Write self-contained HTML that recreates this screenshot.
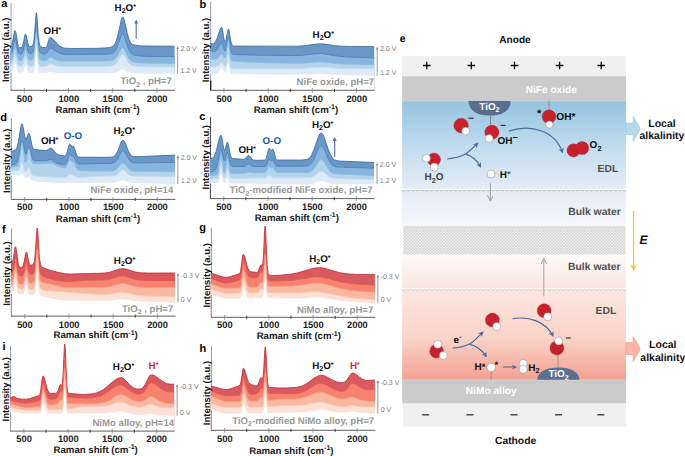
<!DOCTYPE html>
<html><head><meta charset="utf-8"><style>
html,body{margin:0;padding:0;background:#fff;}
svg{display:block;font-family:"Liberation Sans",sans-serif;text-rendering:geometricPrecision;}
</style></head><body>
<svg width="685" height="456" viewBox="0 0 685 456">
<defs>
<linearGradient id="gEDLb" x1="0" y1="0" x2="0" y2="1">
 <stop offset="0" stop-color="#94c4e0"/><stop offset="0.5" stop-color="#c0dbee"/><stop offset="1" stop-color="#e5eef7"/></linearGradient>
<linearGradient id="gBulkb" x1="0" y1="0" x2="0" y2="1">
 <stop offset="0" stop-color="#e2ebf6"/><stop offset="1" stop-color="#f5f8fc"/></linearGradient>
<linearGradient id="gBulkr" x1="0" y1="0" x2="0" y2="1">
 <stop offset="0" stop-color="#fefbf9"/><stop offset="1" stop-color="#fbe4dd"/></linearGradient>
<linearGradient id="gEDLr" x1="0" y1="0" x2="0" y2="1">
 <stop offset="0" stop-color="#fce8e1"/><stop offset="0.55" stop-color="#fad3c8"/><stop offset="1" stop-color="#f4a090"/></linearGradient>
<linearGradient id="gArrB" x1="0" y1="0" x2="1" y2="0">
 <stop offset="0" stop-color="#b9d9ee"/><stop offset="1" stop-color="#a6cde8"/></linearGradient>
<linearGradient id="gArrR" x1="0" y1="0" x2="1" y2="0">
 <stop offset="0" stop-color="#fbd0c4"/><stop offset="1" stop-color="#f5a594"/></linearGradient>
<radialGradient id="gRed" cx="0.38" cy="0.35" r="0.7">
 <stop offset="0" stop-color="#d8343f"/><stop offset="1" stop-color="#bf1c2b"/></radialGradient>
<pattern id="hatch" width="3" height="3" patternUnits="userSpaceOnUse">
 <rect width="3" height="3" fill="#ececec"/><path d="M0 0 L3 3 M3 0 L0 3" stroke="#d0d0d0" stroke-width="0.65"/></pattern>
<marker id="mArrB" viewBox="0 0 10 10" refX="8" refY="5" markerWidth="4.5" markerHeight="4.5" orient="auto-start-reverse">
 <path d="M0 0 L10 5 L0 10 L3 5 Z" fill="#4a6c9e"/></marker>
<marker id="mArrG" viewBox="0 0 10 10" refX="8" refY="5" markerWidth="6.5" markerHeight="6.5" orient="auto-start-reverse">
 <path d="M0 0 L10 5 L0 10" fill="none" stroke="#999" stroke-width="1.6"/></marker>
<marker id="mArrY" viewBox="0 0 10 10" refX="8" refY="5" markerWidth="5" markerHeight="5" orient="auto-start-reverse">
 <path d="M0 0 L10 5 L0 10" fill="none" stroke="#f5c030" stroke-width="1.6"/></marker>
</defs>
<text x="399.80" y="42.20" font-size="10.5" fill="#000" font-weight="bold" text-anchor="start" >e</text>
<text x="515.00" y="43.30" font-size="10.1" fill="#111" font-weight="bold" text-anchor="middle" >Anode</text>
<rect x="402.1" y="55.9" width="223.89999999999998" height="20.6" fill="#f0f0f0"/>
<path d="M423.00 65.5 H430.60 M426.80 61.7 V69.3" stroke="#111" stroke-width="1.35"/>
<path d="M467.50 65.5 H475.10 M471.30 61.7 V69.3" stroke="#111" stroke-width="1.35"/>
<path d="M510.70 65.5 H518.30 M514.50 61.7 V69.3" stroke="#111" stroke-width="1.35"/>
<path d="M555.80 65.5 H563.40 M559.60 61.7 V69.3" stroke="#111" stroke-width="1.35"/>
<path d="M597.40 65.5 H605.00 M601.20 61.7 V69.3" stroke="#111" stroke-width="1.35"/>
<rect x="402.1" y="76.3" width="223.89999999999998" height="24.9" fill="#cbcbcb"/>
<text x="551.30" y="93.20" font-size="10.1" fill="#fff" font-weight="bold" text-anchor="middle" >NiFe oxide</text>
<rect x="402.1" y="101.2" width="223.89999999999998" height="89.0" fill="url(#gEDLb)"/>
<rect x="402.1" y="190.2" width="223.89999999999998" height="35.6" fill="url(#gBulkb)"/>
<path d="M402.1 190.7 H626.0" stroke="#c2c8d0" stroke-width="1.3" stroke-dasharray="3.3 1.4"/>
<path d="M402.1 189.3 H626.0" stroke="#fff" stroke-width="1.2" stroke-dasharray="3.3 1.4"/>
<rect x="403.1" y="225.8" width="222.39999999999998" height="28.9" fill="url(#hatch)"/>
<rect x="402.1" y="254.7" width="223.89999999999998" height="34.6" fill="url(#gBulkr)"/>
<rect x="402.1" y="289.3" width="223.89999999999998" height="90.5" fill="url(#gEDLr)"/>
<path d="M402.1 290.1 H626.0" stroke="#dcc6c0" stroke-width="1.3" stroke-dasharray="3.3 1.4"/>
<path d="M402.1 288.7 H626.0" stroke="#fff" stroke-width="1.2" stroke-dasharray="3.3 1.4"/>
<rect x="402.1" y="379.7" width="223.89999999999998" height="23.9" fill="#cbcbcb"/>
<text x="491.20" y="394.30" font-size="10.2" fill="#fff" font-weight="bold" text-anchor="middle" >NiMo alloy</text>
<rect x="402.90000000000003" y="403.6" width="223.09999999999997" height="22.9" fill="#f0f0f0"/>
<path d="M422.20 414.80 H429.20" stroke="#333" stroke-width="1.3"/>
<path d="M466.50 414.80 H473.50" stroke="#333" stroke-width="1.3"/>
<path d="M510.50 414.80 H517.50" stroke="#333" stroke-width="1.3"/>
<path d="M555.00 414.80 H562.00" stroke="#333" stroke-width="1.3"/>
<path d="M597.30 414.80 H604.30" stroke="#333" stroke-width="1.3"/>
<text x="515.60" y="443.60" font-size="10.3" fill="#111" font-weight="bold" text-anchor="middle" >Cathode</text>
<text x="607.90" y="171.80" font-size="10.3" fill="#505050" font-weight="bold" text-anchor="middle" >EDL</text>
<text x="594.50" y="215.00" font-size="10.4" fill="#505050" font-weight="bold" text-anchor="middle" >Bulk water</text>
<text x="594.30" y="269.60" font-size="10.4" fill="#505050" font-weight="bold" text-anchor="middle" >Bulk water</text>
<text x="605.90" y="314.30" font-size="10.3" fill="#505050" font-weight="bold" text-anchor="middle" >EDL</text>
<path d="M633.6 210.9 V268" stroke="#f7c44e" stroke-width="1.3"/>
<path d="M630.1 264.0 L633.6 271.2 L637.1 264.0 L633.6 266.6 Z" fill="#f7c44e"/>
<text x="639.60" y="243.90" font-size="12.2" fill="#111" font-weight="bold" text-anchor="start" font-style="italic">E</text>
<path d="M626 123.2 H633.2 V116.4 L640.3 128.9 L633.2 141.3 V134.6 H626 Z" fill="#b6d8ee" stroke="#8fc2e2" stroke-width="0.6"/>
<path d="M626 342.6 H633.2 V336.6 L640.3 349.1 L633.2 361.6 V354.6 H626 Z" fill="#f9b6a7" stroke="#f38c7a" stroke-width="0.6"/>
<text x="662.00" y="127.00" font-size="10.5" fill="#111" font-weight="bold" text-anchor="middle" >Local</text>
<text x="662.00" y="138.60" font-size="10.5" fill="#111" font-weight="bold" text-anchor="middle" >alkalinity</text>
<text x="662.80" y="348.20" font-size="10.5" fill="#111" font-weight="bold" text-anchor="middle" >Local</text>
<text x="662.80" y="360.90" font-size="10.5" fill="#111" font-weight="bold" text-anchor="middle" >alkalinity</text>
<path d="M468.6 101.0 L510.6 101.0 C510.6 110.5 502.5 115.6 489.6 115.6 C476.7 115.6 468.6 110.5 468.6 101.0 Z" fill="#5a6d8d"/>
<text x="489.4" y="109.6" font-size="9.9" fill="#fff" font-weight="bold" text-anchor="middle">TiO<tspan font-size="7.1" dy="2.4">2</tspan></text>
<path d="M490.6 115.6 V124.5" stroke="#6a6a6a" stroke-width="0.8"/>
<path d="M549 101 V110" stroke="#8a8a8a" stroke-width="0.8"/>
<circle cx="461.1" cy="125.6" r="7.3" fill="#c5222e" stroke="#b01c28" stroke-width="0.3"/>
<circle cx="465.7" cy="131.1" r="3.9" fill="#fff" stroke="#777" stroke-width="0.45"/>
<path d="M468.50 118.20 H473.50" stroke="#222" stroke-width="1.1"/>
<circle cx="491.9" cy="132.2" r="7.1" fill="#c5222e" stroke="#b01c28" stroke-width="0.3"/>
<circle cx="489.1" cy="138.5" r="3.9" fill="#fff" stroke="#777" stroke-width="0.45"/>
<path d="M500.60 125.40 H505.60" stroke="#222" stroke-width="1.1"/>
<text x="497.40" y="143.80" font-size="10.0" fill="#111" font-weight="bold" text-anchor="start" >OH</text>
<path d="M513.10 137.50 H517.70" stroke="#111" stroke-width="1.0"/>
<circle cx="549.0" cy="116.7" r="6.9" fill="#c5222e" stroke="#b01c28" stroke-width="0.3"/>
<circle cx="549.4" cy="124.5" r="3.6" fill="#fff" stroke="#777" stroke-width="0.45"/>
<text x="537.00" y="117.40" font-size="11" fill="#111" font-weight="bold" text-anchor="start" >*</text>
<text x="556.30" y="120.00" font-size="10.2" fill="#111" font-weight="bold" text-anchor="start" >OH*</text>
<circle cx="573.5" cy="150.4" r="6.6" fill="#c5222e" stroke="#b01c28" stroke-width="0.3"/>
<circle cx="582.2" cy="148.0" r="6.6" fill="#c5222e" stroke="#b01c28" stroke-width="0.3"/>
<text x="589.6" y="148.0" font-size="10" fill="#111" font-weight="bold">O<tspan font-size="7.2" dy="2.5">2</tspan></text>
<circle cx="434.0" cy="159.6" r="6.6" fill="#c5222e" stroke="#b01c28" stroke-width="0.3"/>
<circle cx="426.4" cy="158.3" r="3.95" fill="#fff" stroke="#777" stroke-width="0.45"/>
<circle cx="434.3" cy="167.1" r="4.0" fill="#fff" stroke="#777" stroke-width="0.45"/>
<text x="424.6" y="180.0" font-size="10" fill="#444" font-weight="bold">H<tspan font-size="7.2" dy="2.5">2</tspan><tspan dy="-2.5">O</tspan></text>
<circle cx="491.0" cy="174.1" r="4.0" fill="#fff" stroke="#777" stroke-width="0.45"/>
<text x="499.8" y="177.5" font-size="10" fill="#111" font-weight="bold">H<tspan font-size="6.5" dy="-3.0">+</tspan></text>
<path d="M447.1 159 C456 158 462 156 466.5 153.5 C471 150 475 146 477.6 143.2" fill="none" stroke="#4a6c9e" stroke-width="1.2" marker-end="url(#mArrB)"/>
<path d="M465.8 154.2 C472 156 477 160 480.5 166.8" fill="none" stroke="#4a6c9e" stroke-width="1.2" marker-end="url(#mArrB)"/>
<path d="M508.8 131.1 C530 124 555 130 562.5 152.5" fill="none" stroke="#4a6c9e" stroke-width="1.2" marker-end="url(#mArrB)"/>
<path d="M490.4 183 V200" stroke="#9a9a9a" stroke-width="0.9" marker-end="url(#mArrG)"/>
<path d="M543.8 296.4 V259.5" stroke="#9a9a9a" stroke-width="0.9" marker-end="url(#mArrG)"/>
<circle cx="436.6" cy="351.2" r="6.9" fill="#c5222e" stroke="#b01c28" stroke-width="0.3"/>
<circle cx="437.7" cy="344.3" r="4.0" fill="#fff" stroke="#777" stroke-width="0.45"/>
<circle cx="443.3" cy="355.5" r="4.0" fill="#fff" stroke="#777" stroke-width="0.45"/>
<text x="453.6" y="342.5" font-size="10" fill="#111" font-weight="bold">e<tspan font-size="7" dy="-3.8">-</tspan></text>
<path d="M452.6 348.1 C461 347.5 466 346 470 343.8 C475 340.5 479 336 482.8 332.2" fill="none" stroke="#4a6c9e" stroke-width="1.2" marker-end="url(#mArrB)"/>
<path d="M469.5 344.2 C476 346 482 350 486.2 356.5" fill="none" stroke="#4a6c9e" stroke-width="1.2" marker-end="url(#mArrB)"/>
<circle cx="492.4" cy="320.1" r="7.0" fill="#c5222e" stroke="#b01c28" stroke-width="0.3"/>
<circle cx="496.7" cy="326.6" r="4.0" fill="#fff" stroke="#777" stroke-width="0.45"/>
<path d="M512.6 318.6 C530 316 546 322 553 336" fill="none" stroke="#4a6c9e" stroke-width="1.2" marker-end="url(#mArrB)"/>
<circle cx="544.2" cy="310.7" r="7.0" fill="#c5222e" stroke="#b01c28" stroke-width="0.3"/>
<circle cx="547.7" cy="316.8" r="4.0" fill="#fff" stroke="#777" stroke-width="0.45"/>
<path d="M537.2 379.8 C537.2 372 546 367.4 558.3 367.4 C570.6 367.4 579.5 372 579.5 379.8 Z" fill="#5b6f8f"/>
<text x="558.6" y="377.4" font-size="9.9" fill="#fff" font-weight="bold" text-anchor="middle">TiO<tspan font-size="7.1" dy="2.4">2</tspan></text>
<path d="M558 355 V367.4" stroke="#8a8a8a" stroke-width="0.8"/>
<circle cx="556.9" cy="348.0" r="7.0" fill="#c5222e" stroke="#b01c28" stroke-width="0.3"/>
<circle cx="558.7" cy="341.0" r="4.0" fill="#fff" stroke="#777" stroke-width="0.45"/>
<path d="M565.80 338.00 H570.80" stroke="#222" stroke-width="1.1"/>
<path d="M491.1 371.5 V379.7" stroke="#8a8a8a" stroke-width="0.8"/>
<text x="474.6" y="370.4" font-size="10" fill="#111" font-weight="bold">H<tspan font-size="9.5" dy="-0.5">*</tspan></text>
<circle cx="491.1" cy="367.5" r="4.2" fill="#fff" stroke="#777" stroke-width="0.45"/>
<text x="494.60" y="368.30" font-size="9.5" fill="#111" font-weight="bold" text-anchor="start" >*</text>
<path d="M502.9 367 H516" stroke="#4a6c9e" stroke-width="1.1" marker-end="url(#mArrB)"/>
<circle cx="523.2" cy="363.4" r="4.0" fill="#fff" stroke="#777" stroke-width="0.45"/>
<circle cx="523.2" cy="369.3" r="4.0" fill="#fff" stroke="#777" stroke-width="0.45"/>
<text x="528.2" y="370.8" font-size="10" fill="#111" font-weight="bold">H<tspan font-size="7.2" dy="2.4">2</tspan></text>
<path d="M11.10 3.10 V90.30" stroke="#9a9a9a" stroke-width="1"/>
<g>
<path d="M10.5 88.8 L10.5 46.7 L11.1 46.7 L11.7 45.7 L12.3 43.7 L14.3 32.5 L14.7 30.9 L15.1 30.5 L15.4 30.9 L15.9 32.6 L17.9 44.5 L18.5 46.4 L19.2 47.4 L20.0 47.8 L21.0 47.8 L21.7 47.3 L22.3 46.4 L23.2 43.6 L24.8 35.5 L25.2 34.4 L25.5 34.0 L25.9 34.3 L26.2 35.3 L27.8 43.0 L28.8 45.7 L29.4 46.4 L30.3 46.6 L31.7 46.1 L32.6 45.4 L33.4 43.4 L34.1 39.2 L35.9 15.9 L36.1 13.5 L36.4 12.7 L36.6 13.6 L36.9 16.0 L38.2 35.0 L39.1 42.5 L39.7 44.7 L40.3 45.9 L41.2 46.8 L42.8 47.4 L45.1 47.6 L45.8 47.3 L46.5 46.7 L47.4 44.7 L49.2 38.7 L49.6 37.9 L50.0 37.7 L51.3 38.0 L52.8 39.0 L57.7 44.3 L59.9 46.2 L62.2 47.5 L64.8 48.2 L71.7 48.5 L97.8 48.3 L106.8 47.8 L109.7 47.4 L111.4 46.9 L112.9 46.2 L114.2 45.0 L115.2 43.3 L116.2 41.1 L118.0 35.0 L121.2 20.2 L122.0 17.9 L122.7 17.1 L123.0 17.2 L123.4 17.7 L124.2 19.8 L127.3 33.5 L128.8 39.0 L130.5 42.4 L131.5 43.6 L132.6 44.3 L134.0 44.9 L135.8 45.3 L141.9 45.9 L152.8 46.1 L174.6 46.2 L174.6 88.8 Z" fill="#6a97c6"/>
<path d="M10.5 88.8 L10.5 53.3 L11.1 53.3 L11.7 52.4 L12.3 50.6 L14.3 40.8 L14.7 39.3 L15.1 39.0 L15.4 39.3 L15.9 40.8 L17.9 51.0 L18.5 52.6 L19.2 53.5 L20.0 53.9 L21.1 53.8 L21.8 53.4 L22.3 52.7 L23.2 50.3 L24.8 43.2 L25.2 42.3 L25.5 41.9 L25.9 42.3 L26.2 43.2 L27.8 50.1 L28.8 52.7 L29.4 53.3 L30.3 53.5 L31.7 53.2 L32.7 52.5 L33.6 50.6 L34.2 47.2 L35.9 26.5 L36.1 24.1 L36.4 23.3 L36.8 25.6 L38.2 43.2 L38.9 49.5 L39.4 51.2 L40.0 52.5 L40.8 53.1 L42.1 53.6 L44.9 54.0 L45.7 53.9 L46.4 53.5 L47.4 52.3 L49.2 48.9 L50.0 48.3 L51.3 48.5 L52.6 49.0 L57.2 52.1 L59.4 53.2 L61.6 53.9 L64.1 54.3 L71.2 54.4 L99.4 54.3 L107.2 54.1 L111.3 53.5 L112.7 53.1 L113.9 52.3 L115.0 51.2 L115.9 49.7 L117.7 45.8 L121.1 35.6 L121.9 34.1 L122.7 33.6 L123.5 34.2 L124.3 35.9 L127.5 46.3 L129.2 50.5 L131.0 53.2 L132.0 54.1 L133.2 54.8 L134.7 55.3 L136.8 55.6 L143.9 56.2 L154.8 56.5 L174.6 56.6 L174.6 88.8 Z" fill="#86b5df"/>
<path d="M10.5 88.8 L10.5 60.1 L11.1 60.1 L11.8 59.3 L12.4 57.7 L14.3 49.2 L14.7 47.9 L15.1 47.5 L15.4 47.9 L15.9 49.2 L17.7 57.8 L18.3 59.3 L19.1 60.2 L19.9 60.5 L21.1 60.5 L21.8 60.2 L22.4 59.5 L23.3 57.3 L24.9 50.6 L25.2 49.8 L25.5 49.6 L25.8 49.7 L26.1 50.5 L27.7 57.2 L28.7 59.5 L29.4 60.1 L30.4 60.2 L32.0 59.9 L32.9 59.2 L33.7 57.5 L34.3 54.0 L35.9 34.4 L36.4 31.9 L36.8 34.4 L38.0 49.8 L38.8 56.4 L39.2 58.1 L39.8 59.3 L40.6 59.9 L42.0 60.4 L44.7 60.7 L46.3 60.5 L47.3 59.7 L49.2 57.4 L50.0 57.0 L51.9 57.5 L55.2 59.6 L56.8 60.3 L58.6 60.8 L60.7 61.1 L99.1 61.1 L107.1 60.9 L111.3 60.6 L113.9 59.8 L115.0 59.1 L115.9 58.1 L117.7 55.6 L121.1 49.0 L121.9 48.0 L122.6 47.7 L123.4 48.1 L124.3 49.3 L127.5 56.3 L129.2 59.2 L131.1 61.1 L133.3 62.1 L136.8 62.7 L144.1 63.1 L174.6 63.4 L174.6 88.8 Z" fill="#b4d4eb"/>
<path d="M10.5 88.8 L10.5 66.2 L11.1 66.2 L11.9 65.5 L12.5 64.1 L14.4 55.9 L14.7 54.9 L15.1 54.5 L15.4 54.9 L15.8 55.9 L17.6 64.1 L18.2 65.4 L18.9 66.2 L19.8 66.5 L21.2 66.4 L22.0 66.2 L22.5 65.7 L23.4 63.6 L24.9 57.5 L25.2 56.7 L25.5 56.5 L25.8 56.7 L26.1 57.5 L27.6 63.6 L28.6 65.8 L29.2 66.3 L30.1 66.5 L32.5 66.5 L33.3 66.2 L33.9 64.8 L34.4 61.7 L35.9 42.8 L36.1 40.4 L36.4 39.5 L36.6 40.4 L36.9 42.8 L38.4 62.4 L39.1 65.6 L39.6 66.3 L40.1 66.5 L44.4 66.5 L46.1 66.3 L47.3 65.7 L49.2 63.9 L50.0 63.6 L51.9 63.9 L56.9 66.0 L60.7 66.5 L98.3 66.6 L106.7 66.4 L111.1 66.1 L113.8 65.4 L115.9 63.9 L117.7 61.5 L121.1 55.6 L121.9 54.8 L122.7 54.4 L123.5 54.8 L124.3 55.7 L127.5 61.4 L129.1 63.6 L130.9 65.1 L133.1 66.0 L136.5 66.4 L143.0 66.7 L174.6 67.0 L174.6 88.8 Z" fill="#deeaf7"/>
<path d="M10.5 89.8 L10.5 72.3 L11.1 72.3 L12.0 71.9 L12.7 70.9 L14.5 64.5 L14.8 63.7 L15.1 63.5 L15.3 63.7 L15.7 64.5 L17.4 70.7 L17.9 71.8 L18.5 72.3 L19.4 72.5 L21.4 72.6 L22.2 72.5 L22.8 72.1 L23.7 70.5 L25.0 66.3 L25.5 65.7 L26.1 66.6 L27.5 71.1 L28.3 72.3 L29.0 72.7 L29.8 72.8 L32.7 72.8 L33.5 72.6 L34.1 71.4 L34.5 69.0 L35.9 52.2 L36.1 49.8 L36.4 48.9 L36.8 51.3 L38.3 69.7 L38.9 72.2 L39.3 72.7 L39.8 73.0 L46.1 73.0 L47.3 72.7 L49.3 71.8 L50.0 71.7 L51.9 71.9 L56.8 73.0 L60.7 73.3 L93.9 73.3 L110.9 73.2 L113.7 72.9 L115.9 72.4 L117.7 71.6 L121.1 69.6 L122.7 69.2 L124.3 69.7 L127.5 71.6 L129.1 72.4 L130.9 72.9 L133.1 73.2 L143.1 73.5 L174.6 73.7 L174.6 89.8 Z" fill="#fff"/>
<path d="M11.10 72.83 V90.30" stroke="#9a9a9a" stroke-width="1"/>
<path d="M10.5 46.7 L11.1 46.7 L11.7 45.7 L12.3 43.7 L14.3 32.5 L14.7 30.9 L15.1 30.5 L15.4 30.9 L15.9 32.6 L17.9 44.5 L18.5 46.4 L19.2 47.4 L20.0 47.8 L21.0 47.8 L21.7 47.3 L22.3 46.4 L23.2 43.6 L24.8 35.5 L25.2 34.4 L25.5 34.0 L25.9 34.3 L26.2 35.3 L27.8 43.0 L28.8 45.7 L29.4 46.4 L30.3 46.6 L31.7 46.1 L32.6 45.4 L33.4 43.4 L34.1 39.2 L35.9 15.9 L36.1 13.5 L36.4 12.7 L36.6 13.6 L36.9 16.0 L38.2 35.0 L39.1 42.5 L39.7 44.7 L40.3 45.9 L41.2 46.8 L42.8 47.4 L45.1 47.6 L45.8 47.3 L46.5 46.7 L47.4 44.7 L49.2 38.7 L49.6 37.9 L50.0 37.7 L51.3 38.0 L52.8 39.0 L57.7 44.3 L59.9 46.2 L62.2 47.5 L64.8 48.2 L71.7 48.5 L97.8 48.3 L106.8 47.8 L109.7 47.4 L111.4 46.9 L112.9 46.2 L114.2 45.0 L115.2 43.3 L116.2 41.1 L118.0 35.0 L121.2 20.2 L122.0 17.9 L122.7 17.1 L123.0 17.2 L123.4 17.7 L124.2 19.8 L127.3 33.5 L128.8 39.0 L130.5 42.4 L131.5 43.6 L132.6 44.3 L134.0 44.9 L135.8 45.3 L141.9 45.9 L152.8 46.1 L174.6 46.2" fill="none" stroke="#3a6ca6" stroke-width="0.85" stroke-linejoin="round"/>
<path d="M10.5 53.3 L11.1 53.3 L11.7 52.4 L12.3 50.6 L14.3 40.8 L14.7 39.3 L15.1 39.0 L15.4 39.3 L15.9 40.8 L17.9 51.0 L18.5 52.6 L19.2 53.5 L20.0 53.9 L21.1 53.8 L21.8 53.4 L22.3 52.7 L23.2 50.3 L24.8 43.2 L25.2 42.3 L25.5 41.9 L25.9 42.3 L26.2 43.2 L27.8 50.1 L28.8 52.7 L29.4 53.3 L30.3 53.5 L31.7 53.2 L32.7 52.5 L33.6 50.6 L34.2 47.2 L35.9 26.5 L36.1 24.1 L36.4 23.3 L36.8 25.6 L38.2 43.2 L38.9 49.5 L39.4 51.2 L40.0 52.5 L40.8 53.1 L42.1 53.6 L44.9 54.0 L45.7 53.9 L46.4 53.5 L47.4 52.3 L49.2 48.9 L50.0 48.3 L51.3 48.5 L52.6 49.0 L57.2 52.1 L59.4 53.2 L61.6 53.9 L64.1 54.3 L71.2 54.4 L99.4 54.3 L107.2 54.1 L111.3 53.5 L112.7 53.1 L113.9 52.3 L115.0 51.2 L115.9 49.7 L117.7 45.8 L121.1 35.6 L121.9 34.1 L122.7 33.6 L123.5 34.2 L124.3 35.9 L127.5 46.3 L129.2 50.5 L131.0 53.2 L132.0 54.1 L133.2 54.8 L134.7 55.3 L136.8 55.6 L143.9 56.2 L154.8 56.5 L174.6 56.6" fill="none" stroke="#4a82bd" stroke-width="0.85" stroke-linejoin="round"/>
<path d="M10.5 60.1 L11.1 60.1 L11.8 59.3 L12.4 57.7 L14.3 49.2 L14.7 47.9 L15.1 47.5 L15.4 47.9 L15.9 49.2 L17.7 57.8 L18.3 59.3 L19.1 60.2 L19.9 60.5 L21.1 60.5 L21.8 60.2 L22.4 59.5 L23.3 57.3 L24.9 50.6 L25.2 49.8 L25.5 49.6 L25.8 49.7 L26.1 50.5 L27.7 57.2 L28.7 59.5 L29.4 60.1 L30.4 60.2 L32.0 59.9 L32.9 59.2 L33.7 57.5 L34.3 54.0 L35.9 34.4 L36.4 31.9 L36.8 34.4 L38.0 49.8 L38.8 56.4 L39.2 58.1 L39.8 59.3 L40.6 59.9 L42.0 60.4 L44.7 60.7 L46.3 60.5 L47.3 59.7 L49.2 57.4 L50.0 57.0 L51.9 57.5 L55.2 59.6 L56.8 60.3 L58.6 60.8 L60.7 61.1 L99.1 61.1 L107.1 60.9 L111.3 60.6 L113.9 59.8 L115.0 59.1 L115.9 58.1 L117.7 55.6 L121.1 49.0 L121.9 48.0 L122.6 47.7 L123.4 48.1 L124.3 49.3 L127.5 56.3 L129.2 59.2 L131.1 61.1 L133.3 62.1 L136.8 62.7 L144.1 63.1 L174.6 63.4" fill="none" stroke="#8dbde2" stroke-width="0.85" stroke-linejoin="round"/>
<path d="M10.5 66.2 L11.1 66.2 L11.9 65.5 L12.5 64.1 L14.4 55.9 L14.7 54.9 L15.1 54.5 L15.4 54.9 L15.8 55.9 L17.6 64.1 L18.2 65.4 L18.9 66.2 L19.8 66.5 L21.2 66.4 L22.0 66.2 L22.5 65.7 L23.4 63.6 L24.9 57.5 L25.2 56.7 L25.5 56.5 L25.8 56.7 L26.1 57.5 L27.6 63.6 L28.6 65.8 L29.2 66.3 L30.1 66.5 L32.5 66.5 L33.3 66.2 L33.9 64.8 L34.4 61.7 L35.9 42.8 L36.1 40.4 L36.4 39.5 L36.6 40.4 L36.9 42.8 L38.4 62.4 L39.1 65.6 L39.6 66.3 L40.1 66.5 L44.4 66.5 L46.1 66.3 L47.3 65.7 L49.2 63.9 L50.0 63.6 L51.9 63.9 L56.9 66.0 L60.7 66.5 L98.3 66.6 L106.7 66.4 L111.1 66.1 L113.8 65.4 L115.9 63.9 L117.7 61.5 L121.1 55.6 L121.9 54.8 L122.7 54.4 L123.5 54.8 L124.3 55.7 L127.5 61.4 L129.1 63.6 L130.9 65.1 L133.1 66.0 L136.5 66.4 L143.0 66.7 L174.6 67.0" fill="none" stroke="#c3dbf0" stroke-width="0.85" stroke-linejoin="round"/>
</g>
<path d="M175.14 90.30 H10.60" fill="none" stroke="#5e5e5e" stroke-width="1"/>
<path d="M24.36 88.10 V92.70 M68.56 88.10 V92.70 M112.76 88.10 V92.70 M156.96 88.10 V92.70 " stroke="#808080" stroke-width="0.8"/>
<path d="M46.46 88.80 V91.90 M90.66 88.80 V91.90 M134.86 88.80 V91.90 " stroke="#3a3a3a" stroke-width="1"/>
<text x="24.56" y="101.60" font-size="9.3" fill="#1a1a1a" font-weight="bold" text-anchor="middle" ><tspan>500</tspan></text>
<text x="68.76" y="101.60" font-size="9.3" fill="#1a1a1a" font-weight="bold" text-anchor="middle" ><tspan>1000</tspan></text>
<text x="112.96" y="101.60" font-size="9.3" fill="#1a1a1a" font-weight="bold" text-anchor="middle" ><tspan>1500</tspan></text>
<text x="157.16" y="101.60" font-size="9.3" fill="#1a1a1a" font-weight="bold" text-anchor="middle" ><tspan>2000</tspan></text>
<text x="97.60" y="113.10" font-size="9.65" fill="#1a1a1a" font-weight="bold" text-anchor="middle" ><tspan>Raman shift (cm</tspan><tspan font-size="6.95" dy="-3.67">-1</tspan><tspan dy="3.67">)</tspan></text>
<text x="0" y="0" font-size="9.5" fill="#1a1a1a" font-weight="bold" text-anchor="middle" transform="translate(9.20 49.90) rotate(-90)">Intensity (a.u.)</text>
<text x="1.20" y="6.90" font-size="11" fill="#000" font-weight="bold" text-anchor="start" ><tspan>a</tspan></text>
<path d="M177.60 47.72 V73.69" stroke="#8c8c8c" stroke-width="0.9"/>
<path d="M176.30 49.02 L177.60 46.22 L178.90 49.02 Z" fill="#8c8c8c"/>
<text x="180.40" y="50.72" font-size="7.0" fill="#7c7c7c" font-weight="normal" text-anchor="start" ><tspan>2.0 V</tspan></text>
<text x="180.40" y="72.69" font-size="7.0" fill="#7c7c7c" font-weight="normal" text-anchor="start" ><tspan>1.2 V</tspan></text>
<text x="171.80" y="84.20" font-size="9.6" fill="#999" font-weight="bold" text-anchor="end" ><tspan>TiO</tspan><tspan font-size="6.91" dy="2.40">2</tspan><tspan dy="-2.40"> , pH=7</tspan></text>
<text x="43.60" y="33.80" font-size="9.8" fill="#111" font-weight="bold" text-anchor="start" ><tspan>OH</tspan><tspan font-size="7.06" dy="-1.96">*</tspan></text>
<text x="114.60" y="10.70" font-size="9.8" fill="#111" font-weight="bold" text-anchor="start" ><tspan>H</tspan><tspan font-size="7.06" dy="2.45">2</tspan><tspan dy="-2.45">O</tspan><tspan font-size="7.06" dy="-1.96">*</tspan></text>
<path d="M136.2 38.7 V22.6" stroke="#4d72a8" stroke-width="1.1"/>
<path d="M134.2 23.6 L136.2 19.6 L138.2 23.6 Z" fill="#4d72a8"/>
<path d="M210.70 2.00 V90.30" stroke="#9a9a9a" stroke-width="1"/>
<g>
<path d="M210.1 88.8 L210.1 43.5 L210.7 43.5 L212.4 43.7 L213.5 43.4 L214.5 42.8 L215.4 41.8 L217.0 38.5 L220.0 29.4 L220.8 27.9 L221.5 27.4 L221.8 27.7 L222.3 29.0 L224.0 39.2 L224.6 41.1 L225.0 41.8 L225.5 41.5 L226.0 39.9 L227.8 30.3 L228.2 29.1 L228.6 29.2 L229.3 31.6 L230.6 39.8 L231.4 43.4 L232.4 45.5 L232.9 45.9 L233.7 46.1 L296.6 46.2 L304.0 45.8 L315.7 44.1 L320.5 43.8 L324.7 44.1 L335.3 45.7 L341.8 46.2 L350.2 46.5 L374.2 46.6 L374.2 88.8 Z" fill="#6a97c6"/>
<path d="M210.1 88.8 L210.1 50.7 L210.7 50.7 L214.3 51.3 L215.3 51.2 L216.2 50.7 L217.7 48.9 L220.2 43.9 L220.9 43.2 L221.5 42.9 L221.9 43.2 L222.4 44.1 L224.2 50.1 L224.7 50.8 L225.1 50.9 L225.6 50.3 L225.9 49.2 L227.7 39.6 L228.0 38.4 L228.4 38.0 L228.7 38.5 L229.1 39.8 L230.6 48.8 L231.3 51.9 L232.3 53.9 L232.9 54.3 L233.7 54.5 L257.0 55.2 L295.7 55.5 L303.6 55.2 L315.5 53.7 L320.3 53.5 L324.7 53.9 L335.4 55.8 L342.0 56.6 L351.1 57.1 L374.2 57.9 L374.2 88.8 Z" fill="#86b5df"/>
<path d="M210.1 88.8 L210.1 58.8 L210.7 58.8 L215.2 59.2 L217.0 58.9 L218.4 57.7 L220.6 54.4 L221.5 53.9 L222.0 54.1 L222.5 54.6 L224.6 58.0 L224.9 58.2 L225.3 58.1 L225.7 57.2 L226.2 55.2 L227.6 43.0 L227.9 41.1 L228.2 40.6 L228.5 41.2 L228.8 43.2 L230.0 54.1 L230.6 58.1 L231.4 60.4 L231.9 60.9 L232.6 61.1 L244.5 61.9 L260.3 62.6 L293.2 63.5 L303.2 63.3 L316.1 62.0 L321.1 61.9 L325.6 62.2 L336.0 63.5 L341.4 63.9 L374.2 64.6 L374.2 88.8 Z" fill="#b4d4eb"/>
<path d="M210.1 88.8 L210.1 66.3 L210.7 66.3 L215.4 66.8 L217.1 66.6 L218.4 65.7 L220.6 63.0 L221.5 62.6 L222.0 62.8 L222.5 63.2 L224.7 66.2 L225.1 66.5 L225.5 66.5 L225.9 65.8 L226.3 64.6 L227.7 55.7 L227.9 54.6 L228.2 54.3 L228.7 55.8 L230.4 66.4 L231.1 68.0 L231.6 68.4 L232.3 68.5 L296.6 68.5 L304.1 68.3 L315.7 67.3 L320.5 67.1 L324.7 67.2 L335.3 68.2 L341.7 68.5 L374.2 68.6 L374.2 88.8 Z" fill="#deeaf7"/>
<path d="M210.1 89.8 L210.1 73.8 L210.7 73.8 L215.7 73.8 L217.3 73.4 L218.5 72.3 L220.6 68.6 L221.5 67.9 L221.9 68.0 L222.5 68.5 L224.8 72.4 L225.2 72.8 L225.6 72.8 L226.1 72.1 L226.4 71.0 L227.7 64.2 L228.2 62.9 L228.7 64.3 L230.2 72.3 L230.9 73.6 L231.9 73.9 L297.1 74.7 L320.4 74.0 L341.8 75.2 L374.2 75.7 L374.2 89.8 Z" fill="#fff"/>
<path d="M210.70 74.30 V90.30" stroke="#9a9a9a" stroke-width="1"/>
<path d="M210.70 80.4 V90.30" stroke="#111" stroke-width="1.2"/>
<path d="M210.1 43.5 L210.7 43.5 L212.4 43.7 L213.5 43.4 L214.5 42.8 L215.4 41.8 L217.0 38.5 L220.0 29.4 L220.8 27.9 L221.5 27.4 L221.8 27.7 L222.3 29.0 L224.0 39.2 L224.6 41.1 L225.0 41.8 L225.5 41.5 L226.0 39.9 L227.8 30.3 L228.2 29.1 L228.6 29.2 L229.3 31.6 L230.6 39.8 L231.4 43.4 L232.4 45.5 L232.9 45.9 L233.7 46.1 L296.6 46.2 L304.0 45.8 L315.7 44.1 L320.5 43.8 L324.7 44.1 L335.3 45.7 L341.8 46.2 L350.2 46.5 L374.2 46.6" fill="none" stroke="#3a6ca6" stroke-width="0.85" stroke-linejoin="round"/>
<path d="M210.1 50.7 L210.7 50.7 L214.3 51.3 L215.3 51.2 L216.2 50.7 L217.7 48.9 L220.2 43.9 L220.9 43.2 L221.5 42.9 L221.9 43.2 L222.4 44.1 L224.2 50.1 L224.7 50.8 L225.1 50.9 L225.6 50.3 L225.9 49.2 L227.7 39.6 L228.0 38.4 L228.4 38.0 L228.7 38.5 L229.1 39.8 L230.6 48.8 L231.3 51.9 L232.3 53.9 L232.9 54.3 L233.7 54.5 L257.0 55.2 L295.7 55.5 L303.6 55.2 L315.5 53.7 L320.3 53.5 L324.7 53.9 L335.4 55.8 L342.0 56.6 L351.1 57.1 L374.2 57.9" fill="none" stroke="#4a82bd" stroke-width="0.85" stroke-linejoin="round"/>
<path d="M210.1 58.8 L210.7 58.8 L215.2 59.2 L217.0 58.9 L218.4 57.7 L220.6 54.4 L221.5 53.9 L222.0 54.1 L222.5 54.6 L224.6 58.0 L224.9 58.2 L225.3 58.1 L225.7 57.2 L226.2 55.2 L227.6 43.0 L227.9 41.1 L228.2 40.6 L228.5 41.2 L228.8 43.2 L230.0 54.1 L230.6 58.1 L231.4 60.4 L231.9 60.9 L232.6 61.1 L244.5 61.9 L260.3 62.6 L293.2 63.5 L303.2 63.3 L316.1 62.0 L321.1 61.9 L325.6 62.2 L336.0 63.5 L341.4 63.9 L374.2 64.6" fill="none" stroke="#8dbde2" stroke-width="0.85" stroke-linejoin="round"/>
<path d="M210.1 66.3 L210.7 66.3 L215.4 66.8 L217.1 66.6 L218.4 65.7 L220.6 63.0 L221.5 62.6 L222.0 62.8 L222.5 63.2 L224.7 66.2 L225.1 66.5 L225.5 66.5 L225.9 65.8 L226.3 64.6 L227.7 55.7 L227.9 54.6 L228.2 54.3 L228.7 55.8 L230.4 66.4 L231.1 68.0 L231.6 68.4 L232.3 68.5 L296.6 68.5 L304.1 68.3 L315.7 67.3 L320.5 67.1 L324.7 67.2 L335.3 68.2 L341.7 68.5 L374.2 68.6" fill="none" stroke="#c3dbf0" stroke-width="0.85" stroke-linejoin="round"/>
</g>
<path d="M374.74 90.30 H210.20" fill="none" stroke="#5e5e5e" stroke-width="1"/>
<path d="M223.96 88.10 V92.70 M268.16 88.10 V92.70 M312.36 88.10 V92.70 M356.56 88.10 V92.70 " stroke="#808080" stroke-width="0.8"/>
<path d="M246.06 88.80 V91.90 M290.26 88.80 V91.90 M334.46 88.80 V91.90 " stroke="#3a3a3a" stroke-width="1"/>
<text x="224.16" y="101.60" font-size="9.3" fill="#1a1a1a" font-weight="bold" text-anchor="middle" ><tspan>500</tspan></text>
<text x="268.36" y="101.60" font-size="9.3" fill="#1a1a1a" font-weight="bold" text-anchor="middle" ><tspan>1000</tspan></text>
<text x="312.56" y="101.60" font-size="9.3" fill="#1a1a1a" font-weight="bold" text-anchor="middle" ><tspan>1500</tspan></text>
<text x="356.76" y="101.60" font-size="9.3" fill="#1a1a1a" font-weight="bold" text-anchor="middle" ><tspan>2000</tspan></text>
<text x="296.00" y="112.60" font-size="9.65" fill="#1a1a1a" font-weight="bold" text-anchor="middle" ><tspan>Raman shift (cm</tspan><tspan font-size="6.95" dy="-3.67">-1</tspan><tspan dy="3.67">)</tspan></text>
<text x="0" y="0" font-size="9.5" fill="#1a1a1a" font-weight="bold" text-anchor="middle" transform="translate(208.80 50.10) rotate(-90)">Intensity (a.u.)</text>
<text x="199.60" y="8.10" font-size="11" fill="#000" font-weight="bold" text-anchor="start" ><tspan>b</tspan></text>
<path d="M377.20 48.10 V75.69" stroke="#8c8c8c" stroke-width="0.9"/>
<path d="M375.90 49.40 L377.20 46.60 L378.50 49.40 Z" fill="#8c8c8c"/>
<text x="380.00" y="51.10" font-size="7.0" fill="#7c7c7c" font-weight="normal" text-anchor="start" ><tspan>2.0 V</tspan></text>
<text x="380.00" y="74.69" font-size="7.0" fill="#7c7c7c" font-weight="normal" text-anchor="start" ><tspan>1.2 V</tspan></text>
<text x="374.20" y="85.00" font-size="9.6" fill="#999" font-weight="bold" text-anchor="end" ><tspan>NiFe oxide, pH=7</tspan></text>
<text x="312.60" y="37.80" font-size="9.8" fill="#111" font-weight="bold" text-anchor="start" ><tspan>H</tspan><tspan font-size="7.06" dy="2.45">2</tspan><tspan dy="-2.45">O</tspan><tspan font-size="7.06" dy="-1.96">*</tspan></text>
<path d="M11.40 118.50 V199.40" stroke="#9a9a9a" stroke-width="1"/>
<g>
<path d="M10.8 197.9 L10.8 151.5 L11.4 151.5 L13.8 150.8 L15.2 150.0 L16.2 149.0 L17.0 147.3 L17.7 145.1 L18.4 141.7 L20.9 126.4 L21.4 124.4 L21.9 123.7 L22.4 124.2 L22.9 125.8 L24.7 135.9 L25.5 138.7 L26.0 139.2 L26.4 138.9 L28.3 133.8 L28.7 133.3 L29.1 133.5 L29.9 135.5 L32.2 146.1 L32.9 147.9 L33.8 149.0 L35.2 149.6 L45.3 150.6 L47.2 150.1 L50.1 148.2 L51.3 148.1 L52.6 149.0 L55.2 152.3 L56.7 153.8 L58.6 154.7 L61.4 155.5 L64.5 155.9 L65.3 155.7 L65.9 155.1 L67.0 152.6 L68.9 145.5 L69.4 144.3 L69.8 144.1 L70.3 144.4 L71.7 146.3 L72.1 146.4 L73.2 146.2 L73.8 146.6 L74.5 148.2 L76.6 154.9 L77.3 156.3 L78.4 157.0 L81.0 157.2 L106.8 157.3 L110.5 157.2 L112.4 157.0 L113.5 156.6 L114.5 156.0 L116.2 154.0 L117.7 151.0 L121.1 142.1 L122.1 140.6 L123.0 140.1 L123.4 140.2 L123.9 140.7 L124.9 142.2 L128.2 150.5 L129.7 153.5 L131.3 155.4 L133.0 156.4 L134.8 156.7 L137.6 156.7 L174.9 155.1 L174.9 197.9 Z" fill="#6a97c6"/>
<path d="M10.8 197.9 L10.8 165.2 L11.4 165.2 L14.1 164.5 L15.4 163.9 L16.4 163.0 L17.1 161.7 L17.9 159.6 L18.6 156.6 L20.9 142.9 L21.5 141.1 L22.0 140.6 L22.5 141.1 L22.9 142.4 L24.7 151.1 L25.5 153.8 L26.0 154.1 L26.4 153.6 L28.2 148.0 L28.6 147.2 L29.1 147.1 L29.9 148.9 L31.5 155.7 L32.3 158.3 L33.2 159.9 L33.9 160.4 L34.6 160.6 L45.6 160.8 L47.2 160.5 L49.9 159.6 L51.1 159.6 L52.4 160.1 L55.6 162.4 L57.5 163.4 L61.2 164.2 L64.5 164.4 L65.6 163.9 L66.5 162.7 L68.9 155.6 L69.4 154.6 L69.8 154.4 L70.3 154.6 L71.7 155.9 L72.1 155.9 L73.2 155.6 L73.8 155.9 L74.5 157.1 L76.6 162.5 L77.4 163.4 L78.4 163.9 L80.4 164.0 L111.5 163.3 L113.9 162.6 L114.9 162.1 L115.9 161.2 L117.6 158.9 L121.1 152.2 L122.1 151.1 L123.0 150.8 L123.9 151.2 L124.9 152.3 L128.2 158.4 L129.7 160.6 L131.3 162.0 L133.0 162.7 L137.4 163.0 L174.9 162.5 L174.9 197.9 Z" fill="#86b5df"/>
<path d="M10.8 197.9 L10.8 167.4 L11.4 167.4 L17.0 166.4 L17.8 165.9 L18.4 164.8 L19.4 160.8 L21.1 146.1 L21.6 143.7 L21.9 143.0 L22.3 143.6 L22.7 145.8 L24.5 159.8 L24.9 161.6 L25.5 162.5 L25.9 162.2 L26.4 160.6 L28.1 150.7 L28.5 149.0 L28.9 148.5 L29.3 148.9 L29.7 150.5 L31.0 158.3 L31.7 161.4 L32.5 163.2 L33.0 163.6 L33.6 163.8 L46.0 163.6 L50.9 163.1 L52.4 163.5 L55.7 165.3 L57.7 166.2 L62.6 167.5 L64.9 167.8 L65.8 167.5 L66.6 166.6 L68.8 161.0 L69.3 160.2 L69.7 160.0 L70.3 160.3 L71.7 161.9 L73.2 162.1 L73.8 162.5 L74.4 163.5 L76.0 167.6 L76.8 169.1 L77.9 170.1 L79.5 170.5 L95.3 171.1 L109.7 171.2 L113.1 171.0 L114.8 170.4 L116.3 169.5 L117.7 168.1 L121.0 164.0 L122.0 163.3 L123.0 163.0 L123.9 163.3 L124.9 164.1 L128.2 168.2 L129.7 169.7 L131.3 170.7 L133.0 171.2 L137.4 171.4 L174.9 171.7 L174.9 197.9 Z" fill="#b4d4eb"/>
<path d="M10.8 197.9 L10.8 170.7 L11.4 170.7 L17.5 170.8 L18.7 170.4 L19.6 168.9 L21.2 162.9 L21.6 162.0 L21.9 161.7 L22.3 162.2 L22.6 163.2 L24.2 169.9 L24.7 171.0 L25.2 171.8 L25.9 172.0 L26.5 171.5 L28.3 167.4 L28.6 166.9 L28.9 166.9 L29.6 168.1 L31.1 173.1 L32.0 174.7 L32.7 175.3 L33.8 175.7 L37.5 176.4 L55.9 177.5 L64.5 177.8 L65.6 177.6 L66.5 177.2 L68.9 175.0 L69.8 174.6 L71.7 175.0 L73.8 175.0 L76.6 177.0 L78.4 177.4 L99.3 176.3 L112.2 176.0 L114.3 175.7 L116.1 175.0 L117.7 173.8 L121.1 170.7 L122.1 170.1 L123.0 170.0 L123.9 170.2 L124.9 170.7 L128.2 173.8 L129.7 175.0 L131.3 175.7 L133.0 176.1 L137.2 176.3 L174.9 176.8 L174.9 197.9 Z" fill="#deeaf7"/>
<path d="M10.8 198.9 L10.8 175.1 L11.4 175.1 L19.2 175.7 L20.0 175.3 L21.3 173.7 L21.8 173.5 L22.5 174.0 L24.0 176.6 L24.8 177.4 L25.8 177.8 L26.6 177.9 L28.4 177.1 L28.9 177.1 L31.3 179.7 L32.3 180.2 L34.0 180.8 L37.6 181.4 L59.8 183.1 L65.6 183.2 L69.6 182.3 L72.7 183.1 L74.6 183.2 L112.9 182.6 L116.2 182.2 L121.0 180.6 L123.0 180.3 L124.9 180.6 L129.7 182.4 L133.0 182.9 L174.9 184.0 L174.9 198.9 Z" fill="#fff"/>
<path d="M11.40 175.60 V199.40" stroke="#9a9a9a" stroke-width="1"/>
<path d="M10.8 151.5 L11.4 151.5 L13.8 150.8 L15.2 150.0 L16.2 149.0 L17.0 147.3 L17.7 145.1 L18.4 141.7 L20.9 126.4 L21.4 124.4 L21.9 123.7 L22.4 124.2 L22.9 125.8 L24.7 135.9 L25.5 138.7 L26.0 139.2 L26.4 138.9 L28.3 133.8 L28.7 133.3 L29.1 133.5 L29.9 135.5 L32.2 146.1 L32.9 147.9 L33.8 149.0 L35.2 149.6 L45.3 150.6 L47.2 150.1 L50.1 148.2 L51.3 148.1 L52.6 149.0 L55.2 152.3 L56.7 153.8 L58.6 154.7 L61.4 155.5 L64.5 155.9 L65.3 155.7 L65.9 155.1 L67.0 152.6 L68.9 145.5 L69.4 144.3 L69.8 144.1 L70.3 144.4 L71.7 146.3 L72.1 146.4 L73.2 146.2 L73.8 146.6 L74.5 148.2 L76.6 154.9 L77.3 156.3 L78.4 157.0 L81.0 157.2 L106.8 157.3 L110.5 157.2 L112.4 157.0 L113.5 156.6 L114.5 156.0 L116.2 154.0 L117.7 151.0 L121.1 142.1 L122.1 140.6 L123.0 140.1 L123.4 140.2 L123.9 140.7 L124.9 142.2 L128.2 150.5 L129.7 153.5 L131.3 155.4 L133.0 156.4 L134.8 156.7 L137.6 156.7 L174.9 155.1" fill="none" stroke="#3a6ca6" stroke-width="0.85" stroke-linejoin="round"/>
<path d="M10.8 165.2 L11.4 165.2 L14.1 164.5 L15.4 163.9 L16.4 163.0 L17.1 161.7 L17.9 159.6 L18.6 156.6 L20.9 142.9 L21.5 141.1 L22.0 140.6 L22.5 141.1 L22.9 142.4 L24.7 151.1 L25.5 153.8 L26.0 154.1 L26.4 153.6 L28.2 148.0 L28.6 147.2 L29.1 147.1 L29.9 148.9 L31.5 155.7 L32.3 158.3 L33.2 159.9 L33.9 160.4 L34.6 160.6 L45.6 160.8 L47.2 160.5 L49.9 159.6 L51.1 159.6 L52.4 160.1 L55.6 162.4 L57.5 163.4 L61.2 164.2 L64.5 164.4 L65.6 163.9 L66.5 162.7 L68.9 155.6 L69.4 154.6 L69.8 154.4 L70.3 154.6 L71.7 155.9 L72.1 155.9 L73.2 155.6 L73.8 155.9 L74.5 157.1 L76.6 162.5 L77.4 163.4 L78.4 163.9 L80.4 164.0 L111.5 163.3 L113.9 162.6 L114.9 162.1 L115.9 161.2 L117.6 158.9 L121.1 152.2 L122.1 151.1 L123.0 150.8 L123.9 151.2 L124.9 152.3 L128.2 158.4 L129.7 160.6 L131.3 162.0 L133.0 162.7 L137.4 163.0 L174.9 162.5" fill="none" stroke="#4a82bd" stroke-width="0.85" stroke-linejoin="round"/>
<path d="M10.8 167.4 L11.4 167.4 L17.0 166.4 L17.8 165.9 L18.4 164.8 L19.4 160.8 L21.1 146.1 L21.6 143.7 L21.9 143.0 L22.3 143.6 L22.7 145.8 L24.5 159.8 L24.9 161.6 L25.5 162.5 L25.9 162.2 L26.4 160.6 L28.1 150.7 L28.5 149.0 L28.9 148.5 L29.3 148.9 L29.7 150.5 L31.0 158.3 L31.7 161.4 L32.5 163.2 L33.0 163.6 L33.6 163.8 L46.0 163.6 L50.9 163.1 L52.4 163.5 L55.7 165.3 L57.7 166.2 L62.6 167.5 L64.9 167.8 L65.8 167.5 L66.6 166.6 L68.8 161.0 L69.3 160.2 L69.7 160.0 L70.3 160.3 L71.7 161.9 L73.2 162.1 L73.8 162.5 L74.4 163.5 L76.0 167.6 L76.8 169.1 L77.9 170.1 L79.5 170.5 L95.3 171.1 L109.7 171.2 L113.1 171.0 L114.8 170.4 L116.3 169.5 L117.7 168.1 L121.0 164.0 L122.0 163.3 L123.0 163.0 L123.9 163.3 L124.9 164.1 L128.2 168.2 L129.7 169.7 L131.3 170.7 L133.0 171.2 L137.4 171.4 L174.9 171.7" fill="none" stroke="#8dbde2" stroke-width="0.85" stroke-linejoin="round"/>
<path d="M10.8 170.7 L11.4 170.7 L17.5 170.8 L18.7 170.4 L19.6 168.9 L21.2 162.9 L21.6 162.0 L21.9 161.7 L22.3 162.2 L22.6 163.2 L24.2 169.9 L24.7 171.0 L25.2 171.8 L25.9 172.0 L26.5 171.5 L28.3 167.4 L28.6 166.9 L28.9 166.9 L29.6 168.1 L31.1 173.1 L32.0 174.7 L32.7 175.3 L33.8 175.7 L37.5 176.4 L55.9 177.5 L64.5 177.8 L65.6 177.6 L66.5 177.2 L68.9 175.0 L69.8 174.6 L71.7 175.0 L73.8 175.0 L76.6 177.0 L78.4 177.4 L99.3 176.3 L112.2 176.0 L114.3 175.7 L116.1 175.0 L117.7 173.8 L121.1 170.7 L122.1 170.1 L123.0 170.0 L123.9 170.2 L124.9 170.7 L128.2 173.8 L129.7 175.0 L131.3 175.7 L133.0 176.1 L137.2 176.3 L174.9 176.8" fill="none" stroke="#c3dbf0" stroke-width="0.85" stroke-linejoin="round"/>
</g>
<path d="M175.44 199.40 H10.90" fill="none" stroke="#5e5e5e" stroke-width="1"/>
<path d="M24.66 197.20 V201.80 M68.86 197.20 V201.80 M113.06 197.20 V201.80 M157.26 197.20 V201.80 " stroke="#808080" stroke-width="0.8"/>
<path d="M46.76 197.90 V201.00 M90.96 197.90 V201.00 M135.16 197.90 V201.00 " stroke="#3a3a3a" stroke-width="1"/>
<text x="24.86" y="210.30" font-size="9.3" fill="#1a1a1a" font-weight="bold" text-anchor="middle" ><tspan>500</tspan></text>
<text x="69.06" y="210.30" font-size="9.3" fill="#1a1a1a" font-weight="bold" text-anchor="middle" ><tspan>1000</tspan></text>
<text x="113.26" y="210.30" font-size="9.3" fill="#1a1a1a" font-weight="bold" text-anchor="middle" ><tspan>1500</tspan></text>
<text x="157.46" y="210.30" font-size="9.3" fill="#1a1a1a" font-weight="bold" text-anchor="middle" ><tspan>2000</tspan></text>
<text x="98.00" y="221.60" font-size="9.65" fill="#1a1a1a" font-weight="bold" text-anchor="middle" ><tspan>Raman shift (cm</tspan><tspan font-size="6.95" dy="-3.67">-1</tspan><tspan dy="3.67">)</tspan></text>
<text x="0" y="0" font-size="9.5" fill="#1a1a1a" font-weight="bold" text-anchor="middle" transform="translate(9.50 160.70) rotate(-90)">Intensity (a.u.)</text>
<text x="0.20" y="121.00" font-size="11" fill="#000" font-weight="bold" text-anchor="start" ><tspan>d</tspan></text>
<path d="M177.90 156.60 V184.00" stroke="#8c8c8c" stroke-width="0.9"/>
<path d="M176.60 157.90 L177.90 155.10 L179.20 157.90 Z" fill="#8c8c8c"/>
<text x="180.70" y="159.60" font-size="7.0" fill="#7c7c7c" font-weight="normal" text-anchor="start" ><tspan>2.0 V</tspan></text>
<text x="180.70" y="183.00" font-size="7.0" fill="#7c7c7c" font-weight="normal" text-anchor="start" ><tspan>1.2 V</tspan></text>
<text x="173.30" y="192.90" font-size="9.6" fill="#999" font-weight="bold" text-anchor="end" ><tspan>NiFe oxide, pH=14</tspan></text>
<text x="40.90" y="143.80" font-size="9.8" fill="#111" font-weight="bold" text-anchor="start" ><tspan>OH</tspan><tspan font-size="7.06" dy="-1.96">*</tspan></text>
<text x="63.70" y="138.70" font-size="9.8" fill="#1d5aa6" font-weight="bold" text-anchor="start" ><tspan>O-O</tspan></text>
<text x="113.50" y="134.00" font-size="9.8" fill="#111" font-weight="bold" text-anchor="start" ><tspan>H</tspan><tspan font-size="7.06" dy="2.45">2</tspan><tspan dy="-2.45">O</tspan><tspan font-size="7.06" dy="-1.96">*</tspan></text>
<path d="M210.50 116.80 V198.60" stroke="#555" stroke-width="1"/>
<g>
<path d="M209.9 197.1 L209.9 158.6 L210.5 158.6 L211.9 158.3 L213.1 157.7 L214.0 156.6 L214.9 154.9 L216.4 150.4 L219.4 137.9 L220.2 135.9 L220.7 135.3 L221.0 135.2 L221.4 135.6 L221.8 137.1 L223.4 147.1 L224.2 150.1 L224.6 150.4 L225.0 149.9 L226.8 143.0 L227.2 142.2 L227.6 142.2 L228.4 144.6 L229.8 152.4 L230.6 155.7 L231.5 157.7 L232.0 158.2 L232.7 158.6 L242.3 159.3 L244.1 159.2 L245.4 158.5 L247.7 155.8 L248.6 155.3 L249.6 155.9 L252.0 159.2 L253.5 160.1 L256.1 160.3 L264.5 160.1 L265.5 159.5 L266.2 158.3 L266.9 156.0 L268.3 149.8 L268.8 148.6 L269.2 148.2 L269.6 148.5 L270.5 150.2 L271.0 150.6 L271.5 150.4 L272.6 149.2 L273.1 149.4 L273.7 150.9 L275.6 157.8 L276.3 159.2 L277.2 159.9 L278.7 160.0 L302.1 160.0 L306.2 159.6 L307.8 159.1 L309.2 158.1 L310.5 156.8 L311.6 155.1 L313.8 150.1 L318.6 136.2 L319.9 133.8 L320.6 133.1 L321.3 133.0 L321.9 133.2 L322.6 133.9 L323.9 136.4 L328.5 150.1 L330.5 154.8 L332.4 158.0 L333.5 159.1 L334.6 159.9 L336.9 160.7 L340.4 161.1 L374.0 162.5 L374.0 197.1 Z" fill="#6a97c6"/>
<path d="M209.9 197.1 L209.9 172.1 L210.5 172.1 L213.1 171.4 L214.4 170.8 L215.4 170.0 L216.2 168.7 L216.9 166.7 L217.6 164.0 L220.0 151.6 L220.5 149.9 L221.0 149.1 L221.4 149.4 L221.8 150.6 L223.4 158.5 L224.1 160.7 L224.6 160.9 L225.0 160.2 L226.8 153.4 L227.2 152.5 L227.6 152.5 L227.9 153.1 L228.4 154.5 L229.8 161.3 L230.6 164.2 L231.5 165.9 L232.6 166.5 L244.0 166.5 L245.4 166.1 L247.7 164.4 L248.7 164.1 L249.7 164.4 L252.0 166.1 L253.4 166.5 L264.6 166.5 L265.6 166.1 L266.3 165.2 L268.3 160.2 L268.8 159.5 L269.2 159.3 L271.1 160.9 L271.5 160.8 L272.6 160.2 L273.2 160.4 L273.7 161.2 L275.6 165.1 L276.3 165.9 L277.2 166.2 L304.2 166.2 L306.6 166.0 L308.4 165.5 L310.0 164.6 L311.5 163.2 L312.7 161.4 L313.9 159.1 L318.7 148.1 L319.9 146.3 L320.6 145.8 L321.2 145.6 L321.8 145.8 L322.5 146.3 L323.8 148.2 L328.2 158.7 L330.2 162.4 L332.1 164.8 L334.3 166.2 L336.5 166.8 L339.8 167.1 L374.0 168.2 L374.0 197.1 Z" fill="#86b5df"/>
<path d="M209.9 197.1 L209.9 176.0 L210.5 176.0 L216.5 175.3 L217.3 174.9 L217.8 174.2 L218.7 170.8 L220.3 157.7 L220.7 155.7 L221.0 154.9 L221.3 155.3 L221.6 157.0 L223.1 168.6 L223.5 171.1 L223.9 172.4 L224.2 172.7 L224.5 172.7 L225.0 171.4 L226.8 160.9 L227.1 159.6 L227.4 159.3 L227.6 159.6 L228.0 160.8 L229.9 171.5 L230.6 173.2 L231.0 173.6 L231.6 173.8 L244.0 173.2 L248.7 172.1 L253.4 172.9 L264.7 172.6 L265.6 172.2 L266.3 171.5 L268.3 167.2 L268.8 166.6 L269.2 166.4 L271.1 167.9 L272.6 167.3 L273.2 167.5 L275.6 171.5 L276.3 172.1 L277.2 172.5 L304.9 172.6 L308.4 172.4 L310.8 171.7 L312.9 170.2 L314.7 167.9 L318.9 161.3 L320.0 160.1 L321.2 159.7 L322.4 160.2 L323.7 161.4 L327.8 168.4 L329.6 170.7 L331.4 172.4 L333.5 173.3 L335.6 173.7 L338.9 174.0 L374.0 175.7 L374.0 197.1 Z" fill="#b4d4eb"/>
<path d="M209.9 197.1 L209.9 179.0 L210.5 179.0 L217.0 178.9 L217.7 178.7 L218.2 178.2 L218.6 177.3 L219.1 175.5 L220.4 165.9 L220.8 164.2 L221.0 163.8 L221.3 164.2 L221.6 165.4 L223.1 175.8 L223.6 177.6 L224.2 178.3 L224.8 177.9 L225.4 176.8 L226.9 169.7 L227.4 168.7 L227.9 169.7 L229.6 177.2 L230.2 178.2 L231.2 178.6 L264.6 177.9 L265.6 177.7 L266.3 177.3 L268.2 175.3 L269.0 174.9 L269.8 175.2 L271.8 177.3 L272.5 177.6 L273.4 177.8 L308.9 177.7 L311.2 177.3 L313.1 176.6 L315.0 175.3 L319.0 171.9 L320.1 171.3 L321.2 171.1 L322.3 171.3 L323.6 172.0 L327.5 175.6 L329.2 176.9 L331.0 177.7 L333.0 178.2 L338.3 178.6 L374.0 179.6 L374.0 197.1 Z" fill="#deeaf7"/>
<path d="M209.9 198.1 L209.9 183.0 L210.5 183.0 L217.2 183.1 L217.9 183.0 L218.4 182.7 L219.2 181.1 L220.5 174.4 L221.0 173.2 L221.6 174.4 L223.0 181.4 L223.6 182.7 L224.3 183.1 L224.9 182.9 L225.4 182.2 L226.9 178.0 L227.4 177.3 L227.9 178.1 L229.0 181.4 L229.5 182.6 L230.1 183.2 L231.2 183.4 L273.9 184.2 L307.9 184.3 L310.7 184.1 L313.0 183.7 L314.9 183.0 L319.0 181.2 L321.3 180.8 L323.6 181.2 L329.2 183.6 L333.0 184.2 L374.0 184.3 L374.0 198.1 Z" fill="#fff"/>
<path d="M210.50 183.50 V198.60" stroke="#555" stroke-width="1"/>
<path d="M209.9 158.6 L210.5 158.6 L211.9 158.3 L213.1 157.7 L214.0 156.6 L214.9 154.9 L216.4 150.4 L219.4 137.9 L220.2 135.9 L220.7 135.3 L221.0 135.2 L221.4 135.6 L221.8 137.1 L223.4 147.1 L224.2 150.1 L224.6 150.4 L225.0 149.9 L226.8 143.0 L227.2 142.2 L227.6 142.2 L228.4 144.6 L229.8 152.4 L230.6 155.7 L231.5 157.7 L232.0 158.2 L232.7 158.6 L242.3 159.3 L244.1 159.2 L245.4 158.5 L247.7 155.8 L248.6 155.3 L249.6 155.9 L252.0 159.2 L253.5 160.1 L256.1 160.3 L264.5 160.1 L265.5 159.5 L266.2 158.3 L266.9 156.0 L268.3 149.8 L268.8 148.6 L269.2 148.2 L269.6 148.5 L270.5 150.2 L271.0 150.6 L271.5 150.4 L272.6 149.2 L273.1 149.4 L273.7 150.9 L275.6 157.8 L276.3 159.2 L277.2 159.9 L278.7 160.0 L302.1 160.0 L306.2 159.6 L307.8 159.1 L309.2 158.1 L310.5 156.8 L311.6 155.1 L313.8 150.1 L318.6 136.2 L319.9 133.8 L320.6 133.1 L321.3 133.0 L321.9 133.2 L322.6 133.9 L323.9 136.4 L328.5 150.1 L330.5 154.8 L332.4 158.0 L333.5 159.1 L334.6 159.9 L336.9 160.7 L340.4 161.1 L374.0 162.5" fill="none" stroke="#3a6ca6" stroke-width="0.85" stroke-linejoin="round"/>
<path d="M209.9 172.1 L210.5 172.1 L213.1 171.4 L214.4 170.8 L215.4 170.0 L216.2 168.7 L216.9 166.7 L217.6 164.0 L220.0 151.6 L220.5 149.9 L221.0 149.1 L221.4 149.4 L221.8 150.6 L223.4 158.5 L224.1 160.7 L224.6 160.9 L225.0 160.2 L226.8 153.4 L227.2 152.5 L227.6 152.5 L227.9 153.1 L228.4 154.5 L229.8 161.3 L230.6 164.2 L231.5 165.9 L232.6 166.5 L244.0 166.5 L245.4 166.1 L247.7 164.4 L248.7 164.1 L249.7 164.4 L252.0 166.1 L253.4 166.5 L264.6 166.5 L265.6 166.1 L266.3 165.2 L268.3 160.2 L268.8 159.5 L269.2 159.3 L271.1 160.9 L271.5 160.8 L272.6 160.2 L273.2 160.4 L273.7 161.2 L275.6 165.1 L276.3 165.9 L277.2 166.2 L304.2 166.2 L306.6 166.0 L308.4 165.5 L310.0 164.6 L311.5 163.2 L312.7 161.4 L313.9 159.1 L318.7 148.1 L319.9 146.3 L320.6 145.8 L321.2 145.6 L321.8 145.8 L322.5 146.3 L323.8 148.2 L328.2 158.7 L330.2 162.4 L332.1 164.8 L334.3 166.2 L336.5 166.8 L339.8 167.1 L374.0 168.2" fill="none" stroke="#4a82bd" stroke-width="0.85" stroke-linejoin="round"/>
<path d="M209.9 176.0 L210.5 176.0 L216.5 175.3 L217.3 174.9 L217.8 174.2 L218.7 170.8 L220.3 157.7 L220.7 155.7 L221.0 154.9 L221.3 155.3 L221.6 157.0 L223.1 168.6 L223.5 171.1 L223.9 172.4 L224.2 172.7 L224.5 172.7 L225.0 171.4 L226.8 160.9 L227.1 159.6 L227.4 159.3 L227.6 159.6 L228.0 160.8 L229.9 171.5 L230.6 173.2 L231.0 173.6 L231.6 173.8 L244.0 173.2 L248.7 172.1 L253.4 172.9 L264.7 172.6 L265.6 172.2 L266.3 171.5 L268.3 167.2 L268.8 166.6 L269.2 166.4 L271.1 167.9 L272.6 167.3 L273.2 167.5 L275.6 171.5 L276.3 172.1 L277.2 172.5 L304.9 172.6 L308.4 172.4 L310.8 171.7 L312.9 170.2 L314.7 167.9 L318.9 161.3 L320.0 160.1 L321.2 159.7 L322.4 160.2 L323.7 161.4 L327.8 168.4 L329.6 170.7 L331.4 172.4 L333.5 173.3 L335.6 173.7 L338.9 174.0 L374.0 175.7" fill="none" stroke="#8dbde2" stroke-width="0.85" stroke-linejoin="round"/>
<path d="M209.9 179.0 L210.5 179.0 L217.0 178.9 L217.7 178.7 L218.2 178.2 L218.6 177.3 L219.1 175.5 L220.4 165.9 L220.8 164.2 L221.0 163.8 L221.3 164.2 L221.6 165.4 L223.1 175.8 L223.6 177.6 L224.2 178.3 L224.8 177.9 L225.4 176.8 L226.9 169.7 L227.4 168.7 L227.9 169.7 L229.6 177.2 L230.2 178.2 L231.2 178.6 L264.6 177.9 L265.6 177.7 L266.3 177.3 L268.2 175.3 L269.0 174.9 L269.8 175.2 L271.8 177.3 L272.5 177.6 L273.4 177.8 L308.9 177.7 L311.2 177.3 L313.1 176.6 L315.0 175.3 L319.0 171.9 L320.1 171.3 L321.2 171.1 L322.3 171.3 L323.6 172.0 L327.5 175.6 L329.2 176.9 L331.0 177.7 L333.0 178.2 L338.3 178.6 L374.0 179.6" fill="none" stroke="#c3dbf0" stroke-width="0.85" stroke-linejoin="round"/>
</g>
<path d="M374.54 198.60 H210.00" fill="none" stroke="#5e5e5e" stroke-width="1"/>
<path d="M223.76 196.40 V201.00 M267.96 196.40 V201.00 M312.16 196.40 V201.00 M356.36 196.40 V201.00 " stroke="#808080" stroke-width="0.8"/>
<path d="M245.86 197.10 V200.20 M290.06 197.10 V200.20 M334.26 197.10 V200.20 " stroke="#3a3a3a" stroke-width="1"/>
<text x="223.96" y="210.10" font-size="9.3" fill="#1a1a1a" font-weight="bold" text-anchor="middle" ><tspan>500</tspan></text>
<text x="268.16" y="210.10" font-size="9.3" fill="#1a1a1a" font-weight="bold" text-anchor="middle" ><tspan>1000</tspan></text>
<text x="312.36" y="210.10" font-size="9.3" fill="#1a1a1a" font-weight="bold" text-anchor="middle" ><tspan>1500</tspan></text>
<text x="356.56" y="210.10" font-size="9.3" fill="#1a1a1a" font-weight="bold" text-anchor="middle" ><tspan>2000</tspan></text>
<text x="296.80" y="220.70" font-size="9.65" fill="#1a1a1a" font-weight="bold" text-anchor="middle" ><tspan>Raman shift (cm</tspan><tspan font-size="6.95" dy="-3.67">-1</tspan><tspan dy="3.67">)</tspan></text>
<text x="0" y="0" font-size="9.5" fill="#1a1a1a" font-weight="bold" text-anchor="middle" transform="translate(208.60 157.20) rotate(-90)">Intensity (a.u.)</text>
<text x="199.30" y="119.60" font-size="11" fill="#000" font-weight="bold" text-anchor="start" ><tspan>c</tspan></text>
<path d="M377.00 163.97 V184.30" stroke="#8c8c8c" stroke-width="0.9"/>
<path d="M375.70 165.27 L377.00 162.47 L378.30 165.27 Z" fill="#8c8c8c"/>
<text x="379.80" y="166.97" font-size="7.0" fill="#7c7c7c" font-weight="normal" text-anchor="start" ><tspan>2.0 V</tspan></text>
<text x="379.80" y="183.30" font-size="7.0" fill="#7c7c7c" font-weight="normal" text-anchor="start" ><tspan>1.2 V</tspan></text>
<text x="372.70" y="193.40" font-size="9.6" fill="#999" font-weight="bold" text-anchor="end" ><tspan>TiO</tspan><tspan font-size="6.91" dy="2.40">2</tspan><tspan dy="-2.40">-modified NiFe oxide, pH=7</tspan></text>
<text x="238.40" y="152.60" font-size="9.8" fill="#111" font-weight="bold" text-anchor="start" ><tspan>OH</tspan><tspan font-size="7.06" dy="-1.96">*</tspan></text>
<text x="262.50" y="143.70" font-size="9.8" fill="#1d5aa6" font-weight="bold" text-anchor="start" ><tspan>O-O</tspan></text>
<text x="311.90" y="127.70" font-size="9.8" fill="#111" font-weight="bold" text-anchor="start" ><tspan>H</tspan><tspan font-size="7.06" dy="2.45">2</tspan><tspan dy="-2.45">O</tspan><tspan font-size="7.06" dy="-1.96">*</tspan></text>
<path d="M334.7 156.7 V140.0" stroke="#4d72a8" stroke-width="1.1"/>
<path d="M332.7 141.0 L334.7 137.0 L336.7 141.0 Z" fill="#4d72a8"/>
<path d="M11.50 228.80 V316.10" stroke="#9a9a9a" stroke-width="1"/>
<g>
<path d="M10.9 314.6 L10.9 265.3 L11.5 265.3 L12.2 264.2 L12.8 262.0 L14.7 249.2 L15.1 247.2 L15.5 246.7 L15.8 247.4 L16.3 249.5 L18.1 263.0 L18.7 265.5 L19.5 266.9 L20.4 267.4 L21.6 267.3 L22.4 266.9 L23.0 265.9 L24.0 262.6 L25.6 253.8 L25.9 252.5 L26.3 252.0 L26.6 252.3 L27.0 253.4 L28.6 261.4 L29.5 264.3 L30.2 265.0 L31.1 265.1 L32.5 264.7 L33.4 263.8 L34.3 261.4 L34.9 257.2 L36.7 231.5 L37.0 228.9 L37.2 228.0 L37.8 231.8 L39.3 256.5 L39.9 261.2 L40.5 264.3 L41.3 266.1 L42.5 267.2 L45.1 268.5 L49.4 270.1 L53.3 271.2 L61.4 273.1 L65.3 273.8 L68.8 274.1 L99.9 273.3 L105.0 273.0 L109.8 272.2 L118.7 269.2 L120.7 268.8 L122.5 268.7 L124.4 268.8 L126.4 269.2 L135.5 272.1 L140.5 272.8 L147.9 273.1 L175.0 273.0 L175.0 314.6 Z" fill="#d8595f"/>
<path d="M10.9 314.6 L10.9 274.6 L11.5 274.6 L12.3 273.6 L12.9 271.6 L14.8 259.5 L15.1 258.0 L15.5 257.5 L15.8 258.1 L16.2 259.7 L18.0 272.3 L18.7 274.4 L19.4 275.5 L20.3 275.9 L21.8 275.9 L22.6 275.5 L23.2 274.6 L24.1 271.6 L25.6 262.9 L26.0 261.8 L26.3 261.6 L26.5 261.8 L26.9 262.7 L28.5 271.0 L29.4 273.9 L30.2 274.6 L31.0 274.7 L32.6 274.3 L33.6 273.4 L34.0 272.6 L34.5 271.0 L35.1 266.7 L36.7 243.7 L37.0 240.9 L37.2 240.0 L37.5 241.0 L37.8 243.8 L39.3 266.4 L39.8 270.8 L40.4 273.5 L41.2 274.9 L42.6 276.0 L46.2 277.5 L51.3 279.2 L54.3 280.0 L59.4 280.8 L63.9 281.3 L68.3 281.5 L73.4 281.3 L86.0 280.2 L103.0 280.1 L106.4 279.8 L109.3 279.3 L112.2 278.5 L118.8 276.3 L120.9 275.9 L122.7 275.8 L124.6 276.0 L126.5 276.4 L135.4 279.4 L140.4 280.2 L147.8 280.5 L175.0 280.7 L175.0 314.6 Z" fill="#f6826f"/>
<path d="M10.9 314.6 L10.9 282.7 L11.5 282.7 L12.3 282.0 L13.0 280.0 L14.8 268.8 L15.1 267.2 L15.5 266.7 L15.8 267.4 L16.2 269.0 L18.0 281.0 L18.5 282.8 L19.2 283.9 L20.2 284.3 L21.8 284.3 L22.6 284.0 L23.3 283.2 L24.1 280.2 L25.6 271.6 L26.0 270.4 L26.3 270.1 L26.5 270.4 L26.9 271.5 L28.4 279.8 L29.4 282.7 L30.0 283.3 L30.9 283.4 L32.6 282.8 L33.7 281.9 L34.2 280.9 L34.6 279.7 L35.2 275.6 L36.8 252.4 L37.2 249.5 L37.7 252.3 L38.8 270.3 L39.6 278.0 L40.1 280.0 L40.6 281.3 L41.4 282.0 L42.6 282.5 L50.3 284.0 L62.0 286.8 L65.3 287.3 L68.3 287.6 L99.7 287.3 L105.0 287.1 L109.9 286.4 L118.7 283.9 L122.5 283.4 L126.4 283.9 L135.5 286.5 L140.4 287.2 L147.7 287.5 L175.0 287.6 L175.0 314.6 Z" fill="#fab8a0"/>
<path d="M10.9 314.6 L10.9 287.8 L11.5 287.8 L12.4 287.2 L13.1 285.4 L14.9 274.2 L15.2 272.8 L15.5 272.5 L15.7 272.9 L16.1 274.3 L17.8 285.6 L18.3 287.5 L19.0 288.6 L20.0 289.0 L22.0 289.2 L22.8 288.9 L23.3 288.4 L24.2 285.7 L25.7 277.5 L26.3 276.5 L26.5 276.8 L26.9 278.0 L28.5 286.7 L29.3 288.8 L30.0 289.4 L31.0 289.5 L32.8 289.2 L33.9 288.5 L34.7 286.8 L35.3 283.1 L36.8 261.4 L37.2 258.4 L37.7 261.5 L38.7 278.4 L39.5 285.9 L40.0 287.7 L40.5 288.8 L41.3 289.5 L42.7 290.1 L45.2 290.6 L49.2 290.9 L69.7 292.2 L87.0 293.7 L101.0 294.4 L105.3 294.5 L108.8 294.3 L119.0 292.5 L123.0 292.3 L126.6 292.8 L135.3 295.0 L140.2 295.6 L146.6 296.0 L175.0 296.8 L175.0 314.6 Z" fill="#fde1d6"/>
<path d="M10.9 315.6 L10.9 293.5 L11.5 293.5 L12.6 293.2 L13.3 291.9 L13.8 289.8 L14.9 283.1 L15.2 282.2 L15.5 281.9 L16.0 283.2 L17.5 291.7 L18.0 293.2 L18.7 294.0 L19.5 294.3 L22.4 294.6 L23.1 294.5 L23.6 294.1 L24.3 292.5 L25.6 286.3 L26.0 285.2 L26.3 285.0 L26.5 285.3 L26.9 286.4 L28.2 292.9 L29.0 294.7 L29.8 295.2 L31.6 295.3 L33.3 295.1 L34.3 294.6 L35.0 293.1 L35.5 290.0 L36.9 270.7 L37.2 268.3 L37.6 270.7 L38.6 287.6 L39.3 293.3 L39.8 294.7 L40.4 295.6 L41.5 296.2 L43.1 296.7 L58.4 299.7 L63.1 300.3 L67.2 300.6 L105.2 300.7 L110.6 300.4 L119.2 299.3 L122.4 299.2 L125.9 299.5 L134.8 301.0 L140.7 301.6 L175.0 302.7 L175.0 315.6 Z" fill="#fff"/>
<path d="M11.50 293.96 V316.10" stroke="#9a9a9a" stroke-width="1"/>
<path d="M10.9 265.3 L11.5 265.3 L12.2 264.2 L12.8 262.0 L14.7 249.2 L15.1 247.2 L15.5 246.7 L15.8 247.4 L16.3 249.5 L18.1 263.0 L18.7 265.5 L19.5 266.9 L20.4 267.4 L21.6 267.3 L22.4 266.9 L23.0 265.9 L24.0 262.6 L25.6 253.8 L25.9 252.5 L26.3 252.0 L26.6 252.3 L27.0 253.4 L28.6 261.4 L29.5 264.3 L30.2 265.0 L31.1 265.1 L32.5 264.7 L33.4 263.8 L34.3 261.4 L34.9 257.2 L36.7 231.5 L37.0 228.9 L37.2 228.0 L37.8 231.8 L39.3 256.5 L39.9 261.2 L40.5 264.3 L41.3 266.1 L42.5 267.2 L45.1 268.5 L49.4 270.1 L53.3 271.2 L61.4 273.1 L65.3 273.8 L68.8 274.1 L99.9 273.3 L105.0 273.0 L109.8 272.2 L118.7 269.2 L120.7 268.8 L122.5 268.7 L124.4 268.8 L126.4 269.2 L135.5 272.1 L140.5 272.8 L147.9 273.1 L175.0 273.0" fill="none" stroke="#c12f3a" stroke-width="0.85" stroke-linejoin="round"/>
<path d="M10.9 274.6 L11.5 274.6 L12.3 273.6 L12.9 271.6 L14.8 259.5 L15.1 258.0 L15.5 257.5 L15.8 258.1 L16.2 259.7 L18.0 272.3 L18.7 274.4 L19.4 275.5 L20.3 275.9 L21.8 275.9 L22.6 275.5 L23.2 274.6 L24.1 271.6 L25.6 262.9 L26.0 261.8 L26.3 261.6 L26.5 261.8 L26.9 262.7 L28.5 271.0 L29.4 273.9 L30.2 274.6 L31.0 274.7 L32.6 274.3 L33.6 273.4 L34.0 272.6 L34.5 271.0 L35.1 266.7 L36.7 243.7 L37.0 240.9 L37.2 240.0 L37.5 241.0 L37.8 243.8 L39.3 266.4 L39.8 270.8 L40.4 273.5 L41.2 274.9 L42.6 276.0 L46.2 277.5 L51.3 279.2 L54.3 280.0 L59.4 280.8 L63.9 281.3 L68.3 281.5 L73.4 281.3 L86.0 280.2 L103.0 280.1 L106.4 279.8 L109.3 279.3 L112.2 278.5 L118.8 276.3 L120.9 275.9 L122.7 275.8 L124.6 276.0 L126.5 276.4 L135.4 279.4 L140.4 280.2 L147.8 280.5 L175.0 280.7" fill="none" stroke="#e65a4c" stroke-width="0.85" stroke-linejoin="round"/>
<path d="M10.9 282.7 L11.5 282.7 L12.3 282.0 L13.0 280.0 L14.8 268.8 L15.1 267.2 L15.5 266.7 L15.8 267.4 L16.2 269.0 L18.0 281.0 L18.5 282.8 L19.2 283.9 L20.2 284.3 L21.8 284.3 L22.6 284.0 L23.3 283.2 L24.1 280.2 L25.6 271.6 L26.0 270.4 L26.3 270.1 L26.5 270.4 L26.9 271.5 L28.4 279.8 L29.4 282.7 L30.0 283.3 L30.9 283.4 L32.6 282.8 L33.7 281.9 L34.2 280.9 L34.6 279.7 L35.2 275.6 L36.8 252.4 L37.2 249.5 L37.7 252.3 L38.8 270.3 L39.6 278.0 L40.1 280.0 L40.6 281.3 L41.4 282.0 L42.6 282.5 L50.3 284.0 L62.0 286.8 L65.3 287.3 L68.3 287.6 L99.7 287.3 L105.0 287.1 L109.9 286.4 L118.7 283.9 L122.5 283.4 L126.4 283.9 L135.5 286.5 L140.4 287.2 L147.7 287.5 L175.0 287.6" fill="none" stroke="#f49c84" stroke-width="0.85" stroke-linejoin="round"/>
<path d="M10.9 287.8 L11.5 287.8 L12.4 287.2 L13.1 285.4 L14.9 274.2 L15.2 272.8 L15.5 272.5 L15.7 272.9 L16.1 274.3 L17.8 285.6 L18.3 287.5 L19.0 288.6 L20.0 289.0 L22.0 289.2 L22.8 288.9 L23.3 288.4 L24.2 285.7 L25.7 277.5 L26.3 276.5 L26.5 276.8 L26.9 278.0 L28.5 286.7 L29.3 288.8 L30.0 289.4 L31.0 289.5 L32.8 289.2 L33.9 288.5 L34.7 286.8 L35.3 283.1 L36.8 261.4 L37.2 258.4 L37.7 261.5 L38.7 278.4 L39.5 285.9 L40.0 287.7 L40.5 288.8 L41.3 289.5 L42.7 290.1 L45.2 290.6 L49.2 290.9 L69.7 292.2 L87.0 293.7 L101.0 294.4 L105.3 294.5 L108.8 294.3 L119.0 292.5 L123.0 292.3 L126.6 292.8 L135.3 295.0 L140.2 295.6 L146.6 296.0 L175.0 296.8" fill="none" stroke="#f8cbbb" stroke-width="0.85" stroke-linejoin="round"/>
</g>
<path d="M175.54 316.10 H11.00" fill="none" stroke="#5e5e5e" stroke-width="1"/>
<path d="M24.76 313.90 V318.50 M68.96 313.90 V318.50 M113.16 313.90 V318.50 M157.36 313.90 V318.50 " stroke="#808080" stroke-width="0.8"/>
<path d="M46.86 314.60 V317.70 M91.06 314.60 V317.70 M135.26 314.60 V317.70 " stroke="#3a3a3a" stroke-width="1"/>
<text x="24.96" y="327.60" font-size="9.3" fill="#1a1a1a" font-weight="bold" text-anchor="middle" ><tspan>500</tspan></text>
<text x="69.16" y="327.60" font-size="9.3" fill="#1a1a1a" font-weight="bold" text-anchor="middle" ><tspan>1000</tspan></text>
<text x="113.36" y="327.60" font-size="9.3" fill="#1a1a1a" font-weight="bold" text-anchor="middle" ><tspan>1500</tspan></text>
<text x="157.56" y="327.60" font-size="9.3" fill="#1a1a1a" font-weight="bold" text-anchor="middle" ><tspan>2000</tspan></text>
<text x="95.60" y="338.40" font-size="9.65" fill="#1a1a1a" font-weight="bold" text-anchor="middle" ><tspan>Raman shift (cm</tspan><tspan font-size="6.95" dy="-3.67">-1</tspan><tspan dy="3.67">)</tspan></text>
<text x="0" y="0" font-size="9.5" fill="#1a1a1a" font-weight="bold" text-anchor="middle" transform="translate(9.60 273.60) rotate(-90)">Intensity (a.u.)</text>
<text x="2.00" y="232.90" font-size="11" fill="#000" font-weight="bold" text-anchor="start" ><tspan>f</tspan></text>
<path d="M178.00 274.50 V302.70" stroke="#8c8c8c" stroke-width="0.9"/>
<path d="M176.70 275.80 L178.00 273.00 L179.30 275.80 Z" fill="#8c8c8c"/>
<text x="180.80" y="277.50" font-size="7.0" fill="#7c7c7c" font-weight="normal" text-anchor="start" ><tspan>-0.3 V</tspan></text>
<text x="180.80" y="301.70" font-size="7.0" fill="#7c7c7c" font-weight="normal" text-anchor="start" ><tspan>0 V</tspan></text>
<text x="173.30" y="311.80" font-size="9.6" fill="#999" font-weight="bold" text-anchor="end" ><tspan>TiO</tspan><tspan font-size="6.91" dy="2.40">2</tspan><tspan dy="-2.40"> , pH=7</tspan></text>
<text x="113.80" y="263.50" font-size="9.8" fill="#111" font-weight="bold" text-anchor="start" ><tspan>H</tspan><tspan font-size="7.06" dy="2.45">2</tspan><tspan dy="-2.45">O</tspan><tspan font-size="7.06" dy="-1.96">*</tspan></text>
<path d="M211.40 228.10 V317.30" stroke="#9a9a9a" stroke-width="1"/>
<g>
<path d="M210.8 315.8 L210.8 273.2 L211.4 273.2 L221.2 276.5 L223.7 277.1 L226.0 277.3 L227.9 277.2 L230.1 276.7 L239.1 273.8 L240.0 272.8 L240.7 270.5 L242.6 256.2 L243.0 254.6 L243.3 254.2 L243.8 254.6 L244.5 255.9 L247.3 266.7 L248.2 269.1 L249.1 270.6 L249.9 271.4 L251.1 271.9 L254.0 272.0 L256.4 272.5 L257.5 272.2 L258.4 270.7 L260.5 265.3 L261.1 264.8 L262.0 265.3 L262.2 265.3 L262.8 263.6 L263.5 255.2 L264.6 230.6 L264.9 227.2 L265.1 226.2 L265.7 231.6 L266.8 259.1 L267.4 268.0 L268.1 273.4 L268.5 274.6 L269.1 275.1 L272.4 275.5 L277.0 275.4 L287.3 274.6 L291.9 274.0 L299.1 272.5 L312.3 268.5 L315.6 267.9 L318.7 267.7 L321.7 267.8 L325.0 268.4 L338.6 272.4 L342.4 273.2 L346.3 273.8 L356.1 274.4 L374.9 274.5 L374.9 315.8 Z" fill="#d8595f"/>
<path d="M210.8 315.8 L210.8 278.5 L211.4 278.5 L221.0 282.0 L223.4 282.6 L225.6 282.9 L227.9 282.8 L230.6 282.4 L239.4 280.0 L240.3 278.9 L240.9 276.8 L242.7 262.2 L243.0 260.5 L243.3 260.3 L243.8 260.7 L244.4 262.0 L247.0 272.8 L247.8 275.0 L248.7 276.6 L249.6 277.3 L250.7 277.6 L256.1 277.7 L257.4 277.3 L258.4 276.1 L260.6 271.9 L261.2 271.7 L262.3 272.7 L262.6 272.5 L262.8 271.8 L263.6 265.5 L264.7 246.0 L265.1 243.4 L265.7 248.0 L266.7 268.7 L267.3 275.6 L267.9 279.2 L268.3 280.1 L268.9 280.6 L271.4 281.0 L274.1 281.1 L291.0 280.4 L298.6 279.5 L311.9 277.2 L315.3 276.8 L318.5 276.8 L321.6 277.1 L325.0 277.7 L338.9 281.4 L346.7 282.9 L357.1 284.0 L374.9 285.0 L374.9 315.8 Z" fill="#f6826f"/>
<path d="M210.8 315.8 L210.8 283.8 L211.4 283.8 L220.4 287.1 L224.4 288.1 L231.9 288.1 L238.8 287.9 L240.0 287.7 L240.4 287.3 L240.7 286.7 L241.3 284.5 L242.7 271.9 L243.0 270.3 L243.2 269.7 L243.7 270.0 L244.2 271.2 L246.8 282.5 L247.6 284.8 L248.4 286.2 L249.4 286.9 L250.7 287.2 L256.0 286.9 L257.5 286.6 L258.6 285.5 L260.7 281.9 L261.3 281.8 L262.5 282.7 L262.9 281.9 L263.6 277.1 L264.6 259.5 L264.9 256.5 L265.1 255.4 L265.6 258.5 L267.0 281.4 L267.6 285.2 L268.0 286.0 L268.4 286.3 L285.4 286.3 L292.4 286.1 L299.1 285.4 L311.8 283.4 L315.2 283.1 L318.4 283.1 L321.5 283.5 L324.9 284.1 L338.8 288.0 L346.7 289.7 L356.9 290.9 L374.9 292.2 L374.9 315.8 Z" fill="#fab8a0"/>
<path d="M210.8 315.8 L210.8 289.0 L211.4 289.0 L220.4 292.3 L224.3 293.3 L230.2 293.4 L240.1 293.1 L240.8 292.4 L241.4 290.7 L242.7 280.2 L243.0 278.7 L243.2 278.1 L243.8 278.6 L244.3 280.0 L246.8 289.6 L247.4 291.0 L248.1 292.1 L249.0 292.7 L250.3 292.9 L256.0 292.8 L257.5 292.5 L258.6 291.7 L260.7 288.8 L261.4 288.8 L262.6 289.7 L262.8 289.6 L263.1 288.9 L263.6 285.0 L264.7 268.4 L265.1 265.5 L265.6 268.6 L266.9 288.6 L267.4 291.5 L267.8 292.2 L268.2 292.5 L293.2 293.0 L299.5 292.7 L311.9 291.8 L318.4 291.8 L324.9 292.7 L338.7 295.8 L346.5 297.2 L356.6 298.3 L374.9 299.8 L374.9 315.8 Z" fill="#fde1d6"/>
<path d="M210.8 316.8 L210.8 294.3 L211.4 294.3 L220.4 297.6 L224.3 298.6 L229.3 298.7 L240.3 298.4 L241.0 297.9 L241.5 296.4 L242.8 287.8 L243.2 286.4 L243.7 286.8 L244.2 287.9 L246.5 295.7 L247.2 297.1 L248.0 297.8 L248.9 298.2 L250.1 298.2 L262.4 297.8 L262.8 297.5 L263.1 296.9 L263.6 294.5 L264.7 278.8 L265.1 275.9 L265.6 278.8 L266.7 294.4 L267.3 297.0 L267.5 297.5 L268.0 297.8 L275.3 297.8 L284.6 298.5 L292.8 298.6 L299.6 298.4 L312.4 297.5 L318.7 297.5 L324.9 298.2 L338.5 300.6 L346.1 301.6 L355.6 302.3 L374.9 303.4 L374.9 316.8 Z" fill="#fff"/>
<path d="M211.40 294.80 V317.30" stroke="#9a9a9a" stroke-width="1"/>
<path d="M210.8 273.2 L211.4 273.2 L221.2 276.5 L223.7 277.1 L226.0 277.3 L227.9 277.2 L230.1 276.7 L239.1 273.8 L240.0 272.8 L240.7 270.5 L242.6 256.2 L243.0 254.6 L243.3 254.2 L243.8 254.6 L244.5 255.9 L247.3 266.7 L248.2 269.1 L249.1 270.6 L249.9 271.4 L251.1 271.9 L254.0 272.0 L256.4 272.5 L257.5 272.2 L258.4 270.7 L260.5 265.3 L261.1 264.8 L262.0 265.3 L262.2 265.3 L262.8 263.6 L263.5 255.2 L264.6 230.6 L264.9 227.2 L265.1 226.2 L265.7 231.6 L266.8 259.1 L267.4 268.0 L268.1 273.4 L268.5 274.6 L269.1 275.1 L272.4 275.5 L277.0 275.4 L287.3 274.6 L291.9 274.0 L299.1 272.5 L312.3 268.5 L315.6 267.9 L318.7 267.7 L321.7 267.8 L325.0 268.4 L338.6 272.4 L342.4 273.2 L346.3 273.8 L356.1 274.4 L374.9 274.5" fill="none" stroke="#c12f3a" stroke-width="0.85" stroke-linejoin="round"/>
<path d="M210.8 278.5 L211.4 278.5 L221.0 282.0 L223.4 282.6 L225.6 282.9 L227.9 282.8 L230.6 282.4 L239.4 280.0 L240.3 278.9 L240.9 276.8 L242.7 262.2 L243.0 260.5 L243.3 260.3 L243.8 260.7 L244.4 262.0 L247.0 272.8 L247.8 275.0 L248.7 276.6 L249.6 277.3 L250.7 277.6 L256.1 277.7 L257.4 277.3 L258.4 276.1 L260.6 271.9 L261.2 271.7 L262.3 272.7 L262.6 272.5 L262.8 271.8 L263.6 265.5 L264.7 246.0 L265.1 243.4 L265.7 248.0 L266.7 268.7 L267.3 275.6 L267.9 279.2 L268.3 280.1 L268.9 280.6 L271.4 281.0 L274.1 281.1 L291.0 280.4 L298.6 279.5 L311.9 277.2 L315.3 276.8 L318.5 276.8 L321.6 277.1 L325.0 277.7 L338.9 281.4 L346.7 282.9 L357.1 284.0 L374.9 285.0" fill="none" stroke="#e65a4c" stroke-width="0.85" stroke-linejoin="round"/>
<path d="M210.8 283.8 L211.4 283.8 L220.4 287.1 L224.4 288.1 L231.9 288.1 L238.8 287.9 L240.0 287.7 L240.4 287.3 L240.7 286.7 L241.3 284.5 L242.7 271.9 L243.0 270.3 L243.2 269.7 L243.7 270.0 L244.2 271.2 L246.8 282.5 L247.6 284.8 L248.4 286.2 L249.4 286.9 L250.7 287.2 L256.0 286.9 L257.5 286.6 L258.6 285.5 L260.7 281.9 L261.3 281.8 L262.5 282.7 L262.9 281.9 L263.6 277.1 L264.6 259.5 L264.9 256.5 L265.1 255.4 L265.6 258.5 L267.0 281.4 L267.6 285.2 L268.0 286.0 L268.4 286.3 L285.4 286.3 L292.4 286.1 L299.1 285.4 L311.8 283.4 L315.2 283.1 L318.4 283.1 L321.5 283.5 L324.9 284.1 L338.8 288.0 L346.7 289.7 L356.9 290.9 L374.9 292.2" fill="none" stroke="#f49c84" stroke-width="0.85" stroke-linejoin="round"/>
<path d="M210.8 289.0 L211.4 289.0 L220.4 292.3 L224.3 293.3 L230.2 293.4 L240.1 293.1 L240.8 292.4 L241.4 290.7 L242.7 280.2 L243.0 278.7 L243.2 278.1 L243.8 278.6 L244.3 280.0 L246.8 289.6 L247.4 291.0 L248.1 292.1 L249.0 292.7 L250.3 292.9 L256.0 292.8 L257.5 292.5 L258.6 291.7 L260.7 288.8 L261.4 288.8 L262.6 289.7 L262.8 289.6 L263.1 288.9 L263.6 285.0 L264.7 268.4 L265.1 265.5 L265.6 268.6 L266.9 288.6 L267.4 291.5 L267.8 292.2 L268.2 292.5 L293.2 293.0 L299.5 292.7 L311.9 291.8 L318.4 291.8 L324.9 292.7 L338.7 295.8 L346.5 297.2 L356.6 298.3 L374.9 299.8" fill="none" stroke="#f8cbbb" stroke-width="0.85" stroke-linejoin="round"/>
</g>
<path d="M375.44 317.30 H210.90" fill="none" stroke="#5e5e5e" stroke-width="1"/>
<path d="M224.66 315.10 V319.70 M268.86 315.10 V319.70 M313.06 315.10 V319.70 M357.26 315.10 V319.70 " stroke="#808080" stroke-width="0.8"/>
<path d="M246.76 315.80 V318.90 M290.96 315.80 V318.90 M335.16 315.80 V318.90 " stroke="#3a3a3a" stroke-width="1"/>
<text x="224.86" y="327.90" font-size="9.3" fill="#1a1a1a" font-weight="bold" text-anchor="middle" ><tspan>500</tspan></text>
<text x="269.06" y="327.90" font-size="9.3" fill="#1a1a1a" font-weight="bold" text-anchor="middle" ><tspan>1000</tspan></text>
<text x="313.26" y="327.90" font-size="9.3" fill="#1a1a1a" font-weight="bold" text-anchor="middle" ><tspan>1500</tspan></text>
<text x="357.46" y="327.90" font-size="9.3" fill="#1a1a1a" font-weight="bold" text-anchor="middle" ><tspan>2000</tspan></text>
<text x="298.80" y="339.30" font-size="9.65" fill="#1a1a1a" font-weight="bold" text-anchor="middle" ><tspan>Raman shift (cm</tspan><tspan font-size="6.95" dy="-3.67">-1</tspan><tspan dy="3.67">)</tspan></text>
<text x="0" y="0" font-size="9.5" fill="#1a1a1a" font-weight="bold" text-anchor="middle" transform="translate(209.50 275.40) rotate(-90)">Intensity (a.u.)</text>
<text x="199.20" y="230.60" font-size="11" fill="#000" font-weight="bold" text-anchor="start" ><tspan>g</tspan></text>
<path d="M377.90 276.00 V303.40" stroke="#8c8c8c" stroke-width="0.9"/>
<path d="M376.60 277.30 L377.90 274.50 L379.20 277.30 Z" fill="#8c8c8c"/>
<text x="380.70" y="279.00" font-size="7.0" fill="#7c7c7c" font-weight="normal" text-anchor="start" ><tspan>-0.3 V</tspan></text>
<text x="380.70" y="302.40" font-size="7.0" fill="#7c7c7c" font-weight="normal" text-anchor="start" ><tspan>0 V</tspan></text>
<text x="373.30" y="312.60" font-size="9.6" fill="#999" font-weight="bold" text-anchor="end" ><tspan>NiMo alloy, pH=7</tspan></text>
<text x="309.20" y="261.80" font-size="9.8" fill="#111" font-weight="bold" text-anchor="start" ><tspan>H</tspan><tspan font-size="7.06" dy="2.45">2</tspan><tspan dy="-2.45">O</tspan><tspan font-size="7.06" dy="-1.96">*</tspan></text>
<path d="M10.60 346.10 V431.10" stroke="#9a9a9a" stroke-width="1"/>
<g>
<path d="M10.0 429.6 L10.0 397.4 L10.6 397.4 L11.6 397.3 L13.3 396.6 L14.0 396.5 L14.8 396.8 L16.9 398.2 L18.1 398.6 L22.4 399.2 L26.2 399.3 L29.7 398.6 L38.9 395.6 L39.8 394.4 L40.5 391.9 L42.2 378.5 L42.6 376.6 L43.0 375.9 L43.6 376.3 L44.2 377.7 L47.0 388.4 L47.9 390.8 L48.8 392.3 L49.8 393.2 L51.4 393.5 L55.3 393.4 L56.1 393.2 L56.7 392.8 L57.9 390.9 L60.0 384.9 L60.6 384.5 L61.6 385.2 L61.9 385.2 L62.4 383.4 L63.1 374.5 L64.3 348.8 L64.5 345.3 L64.8 344.1 L65.3 349.5 L66.5 377.4 L67.0 386.3 L67.7 391.8 L68.1 392.9 L68.7 393.4 L80.3 394.3 L84.5 394.4 L91.4 393.9 L96.5 392.9 L100.2 391.4 L103.6 389.4 L106.7 387.0 L113.0 381.5 L115.7 379.5 L118.3 378.2 L120.7 377.6 L122.2 377.9 L124.0 378.9 L130.3 385.4 L133.3 387.7 L135.0 388.4 L136.7 388.9 L138.7 389.1 L140.4 388.9 L142.3 388.0 L143.9 386.5 L145.5 383.9 L149.0 376.6 L150.1 375.3 L151.2 374.9 L153.1 375.1 L155.1 376.0 L162.3 381.3 L165.7 383.2 L167.6 383.8 L169.5 384.1 L174.1 384.2 L174.1 429.6 Z" fill="#d8595f"/>
<path d="M10.0 429.6 L10.0 400.5 L10.6 400.5 L20.5 402.7 L25.4 403.2 L29.4 402.8 L39.2 400.6 L40.0 399.7 L40.7 397.7 L42.3 384.6 L42.7 382.8 L43.0 382.3 L43.5 382.7 L44.0 383.8 L46.8 394.8 L47.6 396.9 L48.5 398.3 L49.6 399.1 L51.1 399.3 L55.1 398.9 L56.7 398.2 L57.8 396.7 L60.0 391.6 L60.4 391.2 L60.7 391.2 L62.0 392.0 L62.5 390.7 L63.2 383.1 L64.3 360.5 L64.8 357.4 L65.1 358.7 L65.3 362.3 L66.8 391.4 L67.4 395.9 L67.9 397.0 L68.4 397.4 L85.0 398.2 L91.6 397.8 L96.6 397.0 L100.3 395.9 L103.9 394.2 L107.0 392.3 L113.1 388.0 L115.8 386.4 L118.2 385.5 L120.5 385.0 L122.2 385.3 L124.0 386.1 L130.4 391.1 L133.4 392.9 L135.2 393.5 L137.0 393.9 L138.9 394.1 L140.5 393.9 L142.4 393.3 L144.0 392.0 L145.6 389.8 L148.9 384.1 L149.9 383.0 L150.9 382.7 L152.7 382.9 L154.6 383.7 L161.5 388.9 L164.9 390.8 L166.9 391.5 L168.9 391.8 L174.1 392.0 L174.1 429.6 Z" fill="#f6826f"/>
<path d="M10.0 429.6 L10.0 404.0 L10.6 404.0 L19.9 406.7 L24.1 407.4 L31.6 407.3 L39.6 406.4 L40.4 405.5 L40.9 403.7 L42.4 391.2 L43.0 389.1 L43.4 389.3 L43.9 390.4 L46.6 400.9 L47.4 403.0 L48.2 404.2 L49.1 404.8 L50.5 405.0 L55.8 404.3 L57.3 403.8 L58.2 403.0 L60.1 400.1 L60.8 399.9 L62.0 400.6 L62.6 399.4 L63.3 392.2 L64.3 371.9 L64.8 368.5 L65.2 371.9 L66.7 398.7 L67.3 402.1 L67.6 403.0 L68.1 403.4 L88.4 403.8 L96.7 403.5 L101.8 403.0 L104.6 402.4 L107.1 401.4 L110.0 399.9 L116.6 395.6 L118.7 394.7 L120.7 394.5 L122.2 394.7 L123.9 395.2 L132.2 399.8 L134.6 400.7 L137.3 401.4 L140.6 401.7 L143.2 401.2 L145.2 400.1 L149.0 396.9 L150.0 396.4 L150.9 396.3 L152.2 396.6 L153.5 397.1 L159.3 400.9 L162.6 402.4 L166.7 403.2 L174.1 403.8 L174.1 429.6 Z" fill="#fab8a0"/>
<path d="M10.0 429.6 L10.0 407.5 L10.6 407.5 L19.6 409.5 L23.5 410.1 L36.2 410.2 L39.9 410.0 L40.6 409.4 L41.1 407.7 L42.5 396.6 L43.0 395.1 L43.5 395.6 L44.0 397.0 L46.6 406.8 L47.3 408.4 L48.2 409.4 L49.1 409.8 L50.6 409.9 L59.5 409.6 L61.8 409.4 L62.2 408.9 L62.5 408.3 L63.0 405.0 L64.3 382.7 L64.8 379.3 L65.2 382.7 L66.6 404.8 L67.1 408.0 L67.4 408.7 L67.9 409.0 L71.1 408.7 L79.5 407.1 L83.1 406.6 L99.1 406.5 L104.5 406.2 L108.9 405.3 L116.6 402.6 L119.9 402.1 L121.6 402.2 L123.5 402.6 L132.2 405.9 L134.7 406.6 L137.3 407.1 L140.0 407.2 L142.4 406.9 L144.4 406.2 L148.6 404.5 L150.9 404.1 L152.9 404.5 L157.8 406.6 L160.7 407.4 L164.5 407.7 L174.1 407.8 L174.1 429.6 Z" fill="#fde1d6"/>
<path d="M10.0 430.6 L10.0 411.0 L10.6 411.0 L19.6 413.0 L23.5 413.6 L40.1 413.6 L40.7 413.2 L41.3 411.9 L42.5 404.8 L43.0 403.6 L43.4 403.9 L43.9 404.9 L46.2 411.4 L46.9 412.6 L47.7 413.2 L48.6 413.5 L49.9 413.6 L62.0 413.4 L62.5 413.0 L62.8 412.3 L63.2 409.6 L64.3 391.8 L64.8 388.5 L65.2 391.8 L66.4 409.6 L66.9 412.5 L67.2 413.1 L67.6 413.4 L103.3 413.5 L108.5 413.0 L116.8 411.5 L120.0 411.3 L123.5 411.7 L132.2 414.0 L137.5 414.7 L142.4 414.8 L148.7 413.9 L150.9 413.8 L152.9 414.0 L157.8 415.0 L160.7 415.4 L174.1 415.8 L174.1 430.6 Z" fill="#fff"/>
<path d="M10.60 411.50 V431.10" stroke="#9a9a9a" stroke-width="1"/>
<path d="M10.0 397.4 L10.6 397.4 L11.6 397.3 L13.3 396.6 L14.0 396.5 L14.8 396.8 L16.9 398.2 L18.1 398.6 L22.4 399.2 L26.2 399.3 L29.7 398.6 L38.9 395.6 L39.8 394.4 L40.5 391.9 L42.2 378.5 L42.6 376.6 L43.0 375.9 L43.6 376.3 L44.2 377.7 L47.0 388.4 L47.9 390.8 L48.8 392.3 L49.8 393.2 L51.4 393.5 L55.3 393.4 L56.1 393.2 L56.7 392.8 L57.9 390.9 L60.0 384.9 L60.6 384.5 L61.6 385.2 L61.9 385.2 L62.4 383.4 L63.1 374.5 L64.3 348.8 L64.5 345.3 L64.8 344.1 L65.3 349.5 L66.5 377.4 L67.0 386.3 L67.7 391.8 L68.1 392.9 L68.7 393.4 L80.3 394.3 L84.5 394.4 L91.4 393.9 L96.5 392.9 L100.2 391.4 L103.6 389.4 L106.7 387.0 L113.0 381.5 L115.7 379.5 L118.3 378.2 L120.7 377.6 L122.2 377.9 L124.0 378.9 L130.3 385.4 L133.3 387.7 L135.0 388.4 L136.7 388.9 L138.7 389.1 L140.4 388.9 L142.3 388.0 L143.9 386.5 L145.5 383.9 L149.0 376.6 L150.1 375.3 L151.2 374.9 L153.1 375.1 L155.1 376.0 L162.3 381.3 L165.7 383.2 L167.6 383.8 L169.5 384.1 L174.1 384.2" fill="none" stroke="#c12f3a" stroke-width="0.85" stroke-linejoin="round"/>
<path d="M10.0 400.5 L10.6 400.5 L20.5 402.7 L25.4 403.2 L29.4 402.8 L39.2 400.6 L40.0 399.7 L40.7 397.7 L42.3 384.6 L42.7 382.8 L43.0 382.3 L43.5 382.7 L44.0 383.8 L46.8 394.8 L47.6 396.9 L48.5 398.3 L49.6 399.1 L51.1 399.3 L55.1 398.9 L56.7 398.2 L57.8 396.7 L60.0 391.6 L60.4 391.2 L60.7 391.2 L62.0 392.0 L62.5 390.7 L63.2 383.1 L64.3 360.5 L64.8 357.4 L65.1 358.7 L65.3 362.3 L66.8 391.4 L67.4 395.9 L67.9 397.0 L68.4 397.4 L85.0 398.2 L91.6 397.8 L96.6 397.0 L100.3 395.9 L103.9 394.2 L107.0 392.3 L113.1 388.0 L115.8 386.4 L118.2 385.5 L120.5 385.0 L122.2 385.3 L124.0 386.1 L130.4 391.1 L133.4 392.9 L135.2 393.5 L137.0 393.9 L138.9 394.1 L140.5 393.9 L142.4 393.3 L144.0 392.0 L145.6 389.8 L148.9 384.1 L149.9 383.0 L150.9 382.7 L152.7 382.9 L154.6 383.7 L161.5 388.9 L164.9 390.8 L166.9 391.5 L168.9 391.8 L174.1 392.0" fill="none" stroke="#e65a4c" stroke-width="0.85" stroke-linejoin="round"/>
<path d="M10.0 404.0 L10.6 404.0 L19.9 406.7 L24.1 407.4 L31.6 407.3 L39.6 406.4 L40.4 405.5 L40.9 403.7 L42.4 391.2 L43.0 389.1 L43.4 389.3 L43.9 390.4 L46.6 400.9 L47.4 403.0 L48.2 404.2 L49.1 404.8 L50.5 405.0 L55.8 404.3 L57.3 403.8 L58.2 403.0 L60.1 400.1 L60.8 399.9 L62.0 400.6 L62.6 399.4 L63.3 392.2 L64.3 371.9 L64.8 368.5 L65.2 371.9 L66.7 398.7 L67.3 402.1 L67.6 403.0 L68.1 403.4 L88.4 403.8 L96.7 403.5 L101.8 403.0 L104.6 402.4 L107.1 401.4 L110.0 399.9 L116.6 395.6 L118.7 394.7 L120.7 394.5 L122.2 394.7 L123.9 395.2 L132.2 399.8 L134.6 400.7 L137.3 401.4 L140.6 401.7 L143.2 401.2 L145.2 400.1 L149.0 396.9 L150.0 396.4 L150.9 396.3 L152.2 396.6 L153.5 397.1 L159.3 400.9 L162.6 402.4 L166.7 403.2 L174.1 403.8" fill="none" stroke="#f49c84" stroke-width="0.85" stroke-linejoin="round"/>
<path d="M10.0 407.5 L10.6 407.5 L19.6 409.5 L23.5 410.1 L36.2 410.2 L39.9 410.0 L40.6 409.4 L41.1 407.7 L42.5 396.6 L43.0 395.1 L43.5 395.6 L44.0 397.0 L46.6 406.8 L47.3 408.4 L48.2 409.4 L49.1 409.8 L50.6 409.9 L59.5 409.6 L61.8 409.4 L62.2 408.9 L62.5 408.3 L63.0 405.0 L64.3 382.7 L64.8 379.3 L65.2 382.7 L66.6 404.8 L67.1 408.0 L67.4 408.7 L67.9 409.0 L71.1 408.7 L79.5 407.1 L83.1 406.6 L99.1 406.5 L104.5 406.2 L108.9 405.3 L116.6 402.6 L119.9 402.1 L121.6 402.2 L123.5 402.6 L132.2 405.9 L134.7 406.6 L137.3 407.1 L140.0 407.2 L142.4 406.9 L144.4 406.2 L148.6 404.5 L150.9 404.1 L152.9 404.5 L157.8 406.6 L160.7 407.4 L164.5 407.7 L174.1 407.8" fill="none" stroke="#f8cbbb" stroke-width="0.85" stroke-linejoin="round"/>
</g>
<path d="M174.64 431.10 H10.10" fill="none" stroke="#5e5e5e" stroke-width="1"/>
<path d="M23.86 428.90 V433.50 M68.06 428.90 V433.50 M112.26 428.90 V433.50 M156.46 428.90 V433.50 " stroke="#808080" stroke-width="0.8"/>
<path d="M45.96 429.60 V432.70 M90.16 429.60 V432.70 M134.36 429.60 V432.70 " stroke="#3a3a3a" stroke-width="1"/>
<text x="24.06" y="442.10" font-size="9.3" fill="#1a1a1a" font-weight="bold" text-anchor="middle" ><tspan>500</tspan></text>
<text x="68.26" y="442.10" font-size="9.3" fill="#1a1a1a" font-weight="bold" text-anchor="middle" ><tspan>1000</tspan></text>
<text x="112.46" y="442.10" font-size="9.3" fill="#1a1a1a" font-weight="bold" text-anchor="middle" ><tspan>1500</tspan></text>
<text x="156.66" y="442.10" font-size="9.3" fill="#1a1a1a" font-weight="bold" text-anchor="middle" ><tspan>2000</tspan></text>
<text x="95.70" y="453.10" font-size="9.65" fill="#1a1a1a" font-weight="bold" text-anchor="middle" ><tspan>Raman shift (cm</tspan><tspan font-size="6.95" dy="-3.67">-1</tspan><tspan dy="3.67">)</tspan></text>
<text x="0" y="0" font-size="9.5" fill="#1a1a1a" font-weight="bold" text-anchor="middle" transform="translate(8.70 389.30) rotate(-90)">Intensity (a.u.)</text>
<text x="2.40" y="350.30" font-size="11" fill="#000" font-weight="bold" text-anchor="start" ><tspan>i</tspan></text>
<path d="M177.10 385.69 V415.78" stroke="#8c8c8c" stroke-width="0.9"/>
<path d="M175.80 386.99 L177.10 384.19 L178.40 386.99 Z" fill="#8c8c8c"/>
<text x="179.90" y="388.69" font-size="7.0" fill="#7c7c7c" font-weight="normal" text-anchor="start" ><tspan>-0.3 V</tspan></text>
<text x="179.90" y="414.78" font-size="7.0" fill="#7c7c7c" font-weight="normal" text-anchor="start" ><tspan>0 V</tspan></text>
<text x="174.10" y="426.30" font-size="9.6" fill="#999" font-weight="bold" text-anchor="end" ><tspan>NiMo alloy, pH=14</tspan></text>
<text x="112.80" y="369.60" font-size="9.8" fill="#111" font-weight="bold" text-anchor="start" ><tspan>H</tspan><tspan font-size="7.06" dy="2.45">2</tspan><tspan dy="-2.45">O</tspan><tspan font-size="7.06" dy="-1.96">*</tspan></text>
<text x="148.60" y="369.10" font-size="9.8" fill="#d32a2e" font-weight="bold" text-anchor="start" ><tspan>H</tspan><tspan font-size="7.06" dy="-1.96">*</tspan></text>
<path d="M211.40 346.30 V430.30" stroke="#9a9a9a" stroke-width="1"/>
<g>
<path d="M210.8 428.8 L210.8 386.0 L211.4 386.0 L221.4 388.9 L224.0 389.4 L226.4 389.5 L228.1 389.3 L230.0 388.9 L239.2 385.7 L240.1 384.8 L240.8 382.8 L242.8 370.0 L243.1 368.6 L243.5 368.2 L244.0 368.6 L244.6 369.8 L247.5 379.7 L248.3 381.7 L249.1 383.2 L250.6 384.3 L254.8 385.7 L256.1 385.9 L257.2 385.6 L257.8 384.9 L258.3 384.0 L260.0 379.2 L260.6 378.0 L260.9 377.7 L261.3 377.7 L262.4 378.9 L262.7 378.6 L262.9 377.8 L263.6 371.0 L264.8 350.5 L265.1 347.6 L265.3 346.7 L265.9 351.2 L267.0 374.1 L267.5 381.5 L268.2 386.0 L268.7 386.9 L269.3 387.4 L277.5 387.9 L287.2 388.0 L294.0 387.6 L298.9 386.9 L302.5 385.8 L305.7 384.2 L308.6 382.3 L314.2 378.1 L316.6 376.7 L318.8 375.7 L320.8 375.3 L323.1 375.5 L325.5 376.2 L333.4 380.5 L336.8 381.9 L340.0 382.7 L342.7 382.7 L344.4 382.2 L345.9 381.0 L347.3 379.3 L350.5 374.4 L351.5 373.5 L352.5 373.1 L353.9 373.3 L355.3 373.9 L361.2 378.4 L362.8 379.3 L364.4 380.0 L366.3 380.4 L368.4 380.5 L374.9 380.0 L374.9 428.8 Z" fill="#d8595f"/>
<path d="M210.8 428.8 L210.8 390.9 L211.4 390.9 L220.4 394.6 L224.4 395.7 L226.2 395.8 L231.1 395.7 L239.6 395.2 L240.5 394.3 L241.1 392.4 L242.9 379.6 L243.2 378.2 L243.5 378.0 L244.0 378.5 L244.6 379.7 L247.2 389.6 L248.0 391.7 L248.9 393.2 L249.9 393.9 L251.2 394.3 L255.3 394.0 L256.9 393.6 L257.6 393.1 L258.3 392.4 L260.6 387.9 L261.3 387.7 L262.5 388.6 L262.8 388.4 L263.0 387.8 L263.7 382.3 L264.9 365.6 L265.3 363.3 L265.9 367.0 L267.4 388.9 L268.0 392.3 L268.4 393.1 L268.9 393.4 L289.9 393.6 L295.4 393.4 L299.4 392.9 L302.7 392.0 L305.9 390.6 L308.6 389.1 L314.1 385.6 L316.4 384.3 L318.5 383.6 L320.5 383.3 L322.6 383.5 L324.8 384.1 L327.1 385.2 L335.0 389.7 L338.0 390.8 L340.8 391.4 L343.3 391.3 L345.3 390.5 L347.1 388.8 L350.6 384.5 L351.6 383.7 L352.5 383.5 L353.9 383.6 L355.3 384.1 L361.2 387.9 L364.4 389.3 L366.3 389.6 L368.3 389.7 L374.9 389.3 L374.9 428.8 Z" fill="#f6826f"/>
<path d="M210.8 428.8 L210.8 396.1 L211.4 396.1 L220.3 400.0 L224.2 401.2 L226.3 401.4 L240.0 401.3 L240.8 400.5 L241.4 398.9 L242.9 387.2 L243.1 385.8 L243.4 385.3 L243.8 385.6 L244.4 386.7 L247.0 396.9 L247.8 398.9 L248.6 400.1 L249.6 400.8 L250.9 401.1 L256.0 401.0 L257.5 400.8 L258.6 399.9 L260.7 397.0 L261.3 396.9 L262.6 397.8 L262.8 397.7 L263.1 397.0 L263.7 392.5 L264.8 376.4 L265.1 373.6 L265.3 372.6 L265.8 375.4 L267.2 396.0 L267.8 399.4 L268.2 400.1 L268.6 400.4 L271.2 400.3 L282.2 399.1 L294.6 398.9 L300.5 398.3 L303.4 397.7 L306.3 396.8 L316.2 392.8 L318.5 392.3 L320.6 392.1 L322.8 392.4 L325.1 393.0 L334.8 397.2 L337.5 398.0 L339.9 398.6 L342.2 398.9 L344.4 398.8 L346.2 398.4 L350.3 397.2 L352.5 397.0 L354.5 397.5 L359.4 399.6 L362.3 400.4 L366.2 400.9 L374.9 401.4 L374.9 428.8 Z" fill="#fab8a0"/>
<path d="M210.8 428.8 L210.8 404.0 L211.4 404.0 L220.3 406.6 L224.2 407.4 L228.8 407.5 L240.3 407.4 L241.0 406.7 L241.5 405.1 L243.0 394.8 L243.4 393.4 L243.9 393.9 L244.5 395.1 L247.0 404.4 L247.7 405.8 L248.6 406.8 L249.6 407.2 L251.0 407.3 L262.3 406.9 L262.8 406.5 L263.0 406.0 L263.6 403.3 L264.9 384.7 L265.3 381.9 L265.8 384.7 L267.1 403.1 L267.6 405.8 L268.0 406.4 L268.4 406.7 L283.0 405.4 L296.4 405.4 L301.7 405.2 L306.8 404.5 L315.7 402.5 L319.8 402.2 L322.0 402.3 L324.4 402.7 L334.7 405.7 L340.3 406.7 L344.5 406.7 L350.4 405.8 L352.6 405.6 L362.2 406.9 L374.9 407.0 L374.9 428.8 Z" fill="#fde1d6"/>
<path d="M210.8 429.8 L210.8 409.3 L211.4 409.3 L220.3 412.6 L224.2 413.5 L226.3 413.7 L240.5 413.6 L241.2 413.2 L241.7 411.9 L243.0 404.8 L243.4 403.7 L243.8 404.0 L244.3 404.9 L246.4 411.6 L247.0 412.6 L247.8 413.3 L249.9 413.6 L262.5 413.4 L262.9 413.1 L263.2 412.7 L263.7 410.3 L264.9 396.1 L265.3 393.4 L265.8 396.0 L266.9 410.2 L267.4 412.6 L267.7 413.0 L268.2 413.3 L282.4 412.6 L294.8 412.5 L300.7 412.3 L306.3 411.7 L316.0 410.1 L320.3 409.8 L324.9 410.1 L334.9 412.0 L340.1 412.6 L344.4 412.6 L350.3 411.8 L352.5 411.7 L354.5 411.8 L359.3 412.8 L362.2 413.1 L374.9 413.4 L374.9 429.8 Z" fill="#fff"/>
<path d="M211.40 409.80 V430.30" stroke="#9a9a9a" stroke-width="1"/>
<path d="M210.8 386.0 L211.4 386.0 L221.4 388.9 L224.0 389.4 L226.4 389.5 L228.1 389.3 L230.0 388.9 L239.2 385.7 L240.1 384.8 L240.8 382.8 L242.8 370.0 L243.1 368.6 L243.5 368.2 L244.0 368.6 L244.6 369.8 L247.5 379.7 L248.3 381.7 L249.1 383.2 L250.6 384.3 L254.8 385.7 L256.1 385.9 L257.2 385.6 L257.8 384.9 L258.3 384.0 L260.0 379.2 L260.6 378.0 L260.9 377.7 L261.3 377.7 L262.4 378.9 L262.7 378.6 L262.9 377.8 L263.6 371.0 L264.8 350.5 L265.1 347.6 L265.3 346.7 L265.9 351.2 L267.0 374.1 L267.5 381.5 L268.2 386.0 L268.7 386.9 L269.3 387.4 L277.5 387.9 L287.2 388.0 L294.0 387.6 L298.9 386.9 L302.5 385.8 L305.7 384.2 L308.6 382.3 L314.2 378.1 L316.6 376.7 L318.8 375.7 L320.8 375.3 L323.1 375.5 L325.5 376.2 L333.4 380.5 L336.8 381.9 L340.0 382.7 L342.7 382.7 L344.4 382.2 L345.9 381.0 L347.3 379.3 L350.5 374.4 L351.5 373.5 L352.5 373.1 L353.9 373.3 L355.3 373.9 L361.2 378.4 L362.8 379.3 L364.4 380.0 L366.3 380.4 L368.4 380.5 L374.9 380.0" fill="none" stroke="#c12f3a" stroke-width="0.85" stroke-linejoin="round"/>
<path d="M210.8 390.9 L211.4 390.9 L220.4 394.6 L224.4 395.7 L226.2 395.8 L231.1 395.7 L239.6 395.2 L240.5 394.3 L241.1 392.4 L242.9 379.6 L243.2 378.2 L243.5 378.0 L244.0 378.5 L244.6 379.7 L247.2 389.6 L248.0 391.7 L248.9 393.2 L249.9 393.9 L251.2 394.3 L255.3 394.0 L256.9 393.6 L257.6 393.1 L258.3 392.4 L260.6 387.9 L261.3 387.7 L262.5 388.6 L262.8 388.4 L263.0 387.8 L263.7 382.3 L264.9 365.6 L265.3 363.3 L265.9 367.0 L267.4 388.9 L268.0 392.3 L268.4 393.1 L268.9 393.4 L289.9 393.6 L295.4 393.4 L299.4 392.9 L302.7 392.0 L305.9 390.6 L308.6 389.1 L314.1 385.6 L316.4 384.3 L318.5 383.6 L320.5 383.3 L322.6 383.5 L324.8 384.1 L327.1 385.2 L335.0 389.7 L338.0 390.8 L340.8 391.4 L343.3 391.3 L345.3 390.5 L347.1 388.8 L350.6 384.5 L351.6 383.7 L352.5 383.5 L353.9 383.6 L355.3 384.1 L361.2 387.9 L364.4 389.3 L366.3 389.6 L368.3 389.7 L374.9 389.3" fill="none" stroke="#e65a4c" stroke-width="0.85" stroke-linejoin="round"/>
<path d="M210.8 396.1 L211.4 396.1 L220.3 400.0 L224.2 401.2 L226.3 401.4 L240.0 401.3 L240.8 400.5 L241.4 398.9 L242.9 387.2 L243.1 385.8 L243.4 385.3 L243.8 385.6 L244.4 386.7 L247.0 396.9 L247.8 398.9 L248.6 400.1 L249.6 400.8 L250.9 401.1 L256.0 401.0 L257.5 400.8 L258.6 399.9 L260.7 397.0 L261.3 396.9 L262.6 397.8 L262.8 397.7 L263.1 397.0 L263.7 392.5 L264.8 376.4 L265.1 373.6 L265.3 372.6 L265.8 375.4 L267.2 396.0 L267.8 399.4 L268.2 400.1 L268.6 400.4 L271.2 400.3 L282.2 399.1 L294.6 398.9 L300.5 398.3 L303.4 397.7 L306.3 396.8 L316.2 392.8 L318.5 392.3 L320.6 392.1 L322.8 392.4 L325.1 393.0 L334.8 397.2 L337.5 398.0 L339.9 398.6 L342.2 398.9 L344.4 398.8 L346.2 398.4 L350.3 397.2 L352.5 397.0 L354.5 397.5 L359.4 399.6 L362.3 400.4 L366.2 400.9 L374.9 401.4" fill="none" stroke="#f49c84" stroke-width="0.85" stroke-linejoin="round"/>
<path d="M210.8 404.0 L211.4 404.0 L220.3 406.6 L224.2 407.4 L228.8 407.5 L240.3 407.4 L241.0 406.7 L241.5 405.1 L243.0 394.8 L243.4 393.4 L243.9 393.9 L244.5 395.1 L247.0 404.4 L247.7 405.8 L248.6 406.8 L249.6 407.2 L251.0 407.3 L262.3 406.9 L262.8 406.5 L263.0 406.0 L263.6 403.3 L264.9 384.7 L265.3 381.9 L265.8 384.7 L267.1 403.1 L267.6 405.8 L268.0 406.4 L268.4 406.7 L283.0 405.4 L296.4 405.4 L301.7 405.2 L306.8 404.5 L315.7 402.5 L319.8 402.2 L322.0 402.3 L324.4 402.7 L334.7 405.7 L340.3 406.7 L344.5 406.7 L350.4 405.8 L352.6 405.6 L362.2 406.9 L374.9 407.0" fill="none" stroke="#f8cbbb" stroke-width="0.85" stroke-linejoin="round"/>
</g>
<path d="M375.44 430.30 H210.90" fill="none" stroke="#5e5e5e" stroke-width="1"/>
<path d="M224.66 428.10 V432.70 M268.86 428.10 V432.70 M313.06 428.10 V432.70 M357.26 428.10 V432.70 " stroke="#808080" stroke-width="0.8"/>
<path d="M246.76 428.80 V431.90 M290.96 428.80 V431.90 M335.16 428.80 V431.90 " stroke="#3a3a3a" stroke-width="1"/>
<text x="224.86" y="441.60" font-size="9.3" fill="#1a1a1a" font-weight="bold" text-anchor="middle" ><tspan>500</tspan></text>
<text x="269.06" y="441.60" font-size="9.3" fill="#1a1a1a" font-weight="bold" text-anchor="middle" ><tspan>1000</tspan></text>
<text x="313.26" y="441.60" font-size="9.3" fill="#1a1a1a" font-weight="bold" text-anchor="middle" ><tspan>1500</tspan></text>
<text x="357.46" y="441.60" font-size="9.3" fill="#1a1a1a" font-weight="bold" text-anchor="middle" ><tspan>2000</tspan></text>
<text x="291.40" y="453.50" font-size="9.65" fill="#1a1a1a" font-weight="bold" text-anchor="middle" ><tspan>Raman shift (cm</tspan><tspan font-size="6.95" dy="-3.67">-1</tspan><tspan dy="3.67">)</tspan></text>
<text x="0" y="0" font-size="9.5" fill="#1a1a1a" font-weight="bold" text-anchor="middle" transform="translate(209.50 393.00) rotate(-90)">Intensity (a.u.)</text>
<text x="199.60" y="352.30" font-size="11" fill="#000" font-weight="bold" text-anchor="start" ><tspan>h</tspan></text>
<path d="M377.90 381.50 V413.40" stroke="#8c8c8c" stroke-width="0.9"/>
<path d="M376.60 382.80 L377.90 380.00 L379.20 382.80 Z" fill="#8c8c8c"/>
<text x="380.70" y="384.50" font-size="7.0" fill="#7c7c7c" font-weight="normal" text-anchor="start" ><tspan>-0.3 V</tspan></text>
<text x="380.70" y="412.40" font-size="7.0" fill="#7c7c7c" font-weight="normal" text-anchor="start" ><tspan>0 V</tspan></text>
<text x="374.10" y="423.70" font-size="9.6" fill="#999" font-weight="bold" text-anchor="end" ><tspan>TiO</tspan><tspan font-size="6.91" dy="2.40">2</tspan><tspan dy="-2.40">-modified NiMo alloy, pH=7</tspan></text>
<text x="312.20" y="368.70" font-size="9.8" fill="#111" font-weight="bold" text-anchor="start" ><tspan>H</tspan><tspan font-size="7.06" dy="2.45">2</tspan><tspan dy="-2.45">O</tspan><tspan font-size="7.06" dy="-1.96">*</tspan></text>
<text x="350.00" y="368.70" font-size="9.8" fill="#d32a2e" font-weight="bold" text-anchor="start" ><tspan>H</tspan><tspan font-size="7.06" dy="-1.96">*</tspan></text>
</svg>
</body></html>
